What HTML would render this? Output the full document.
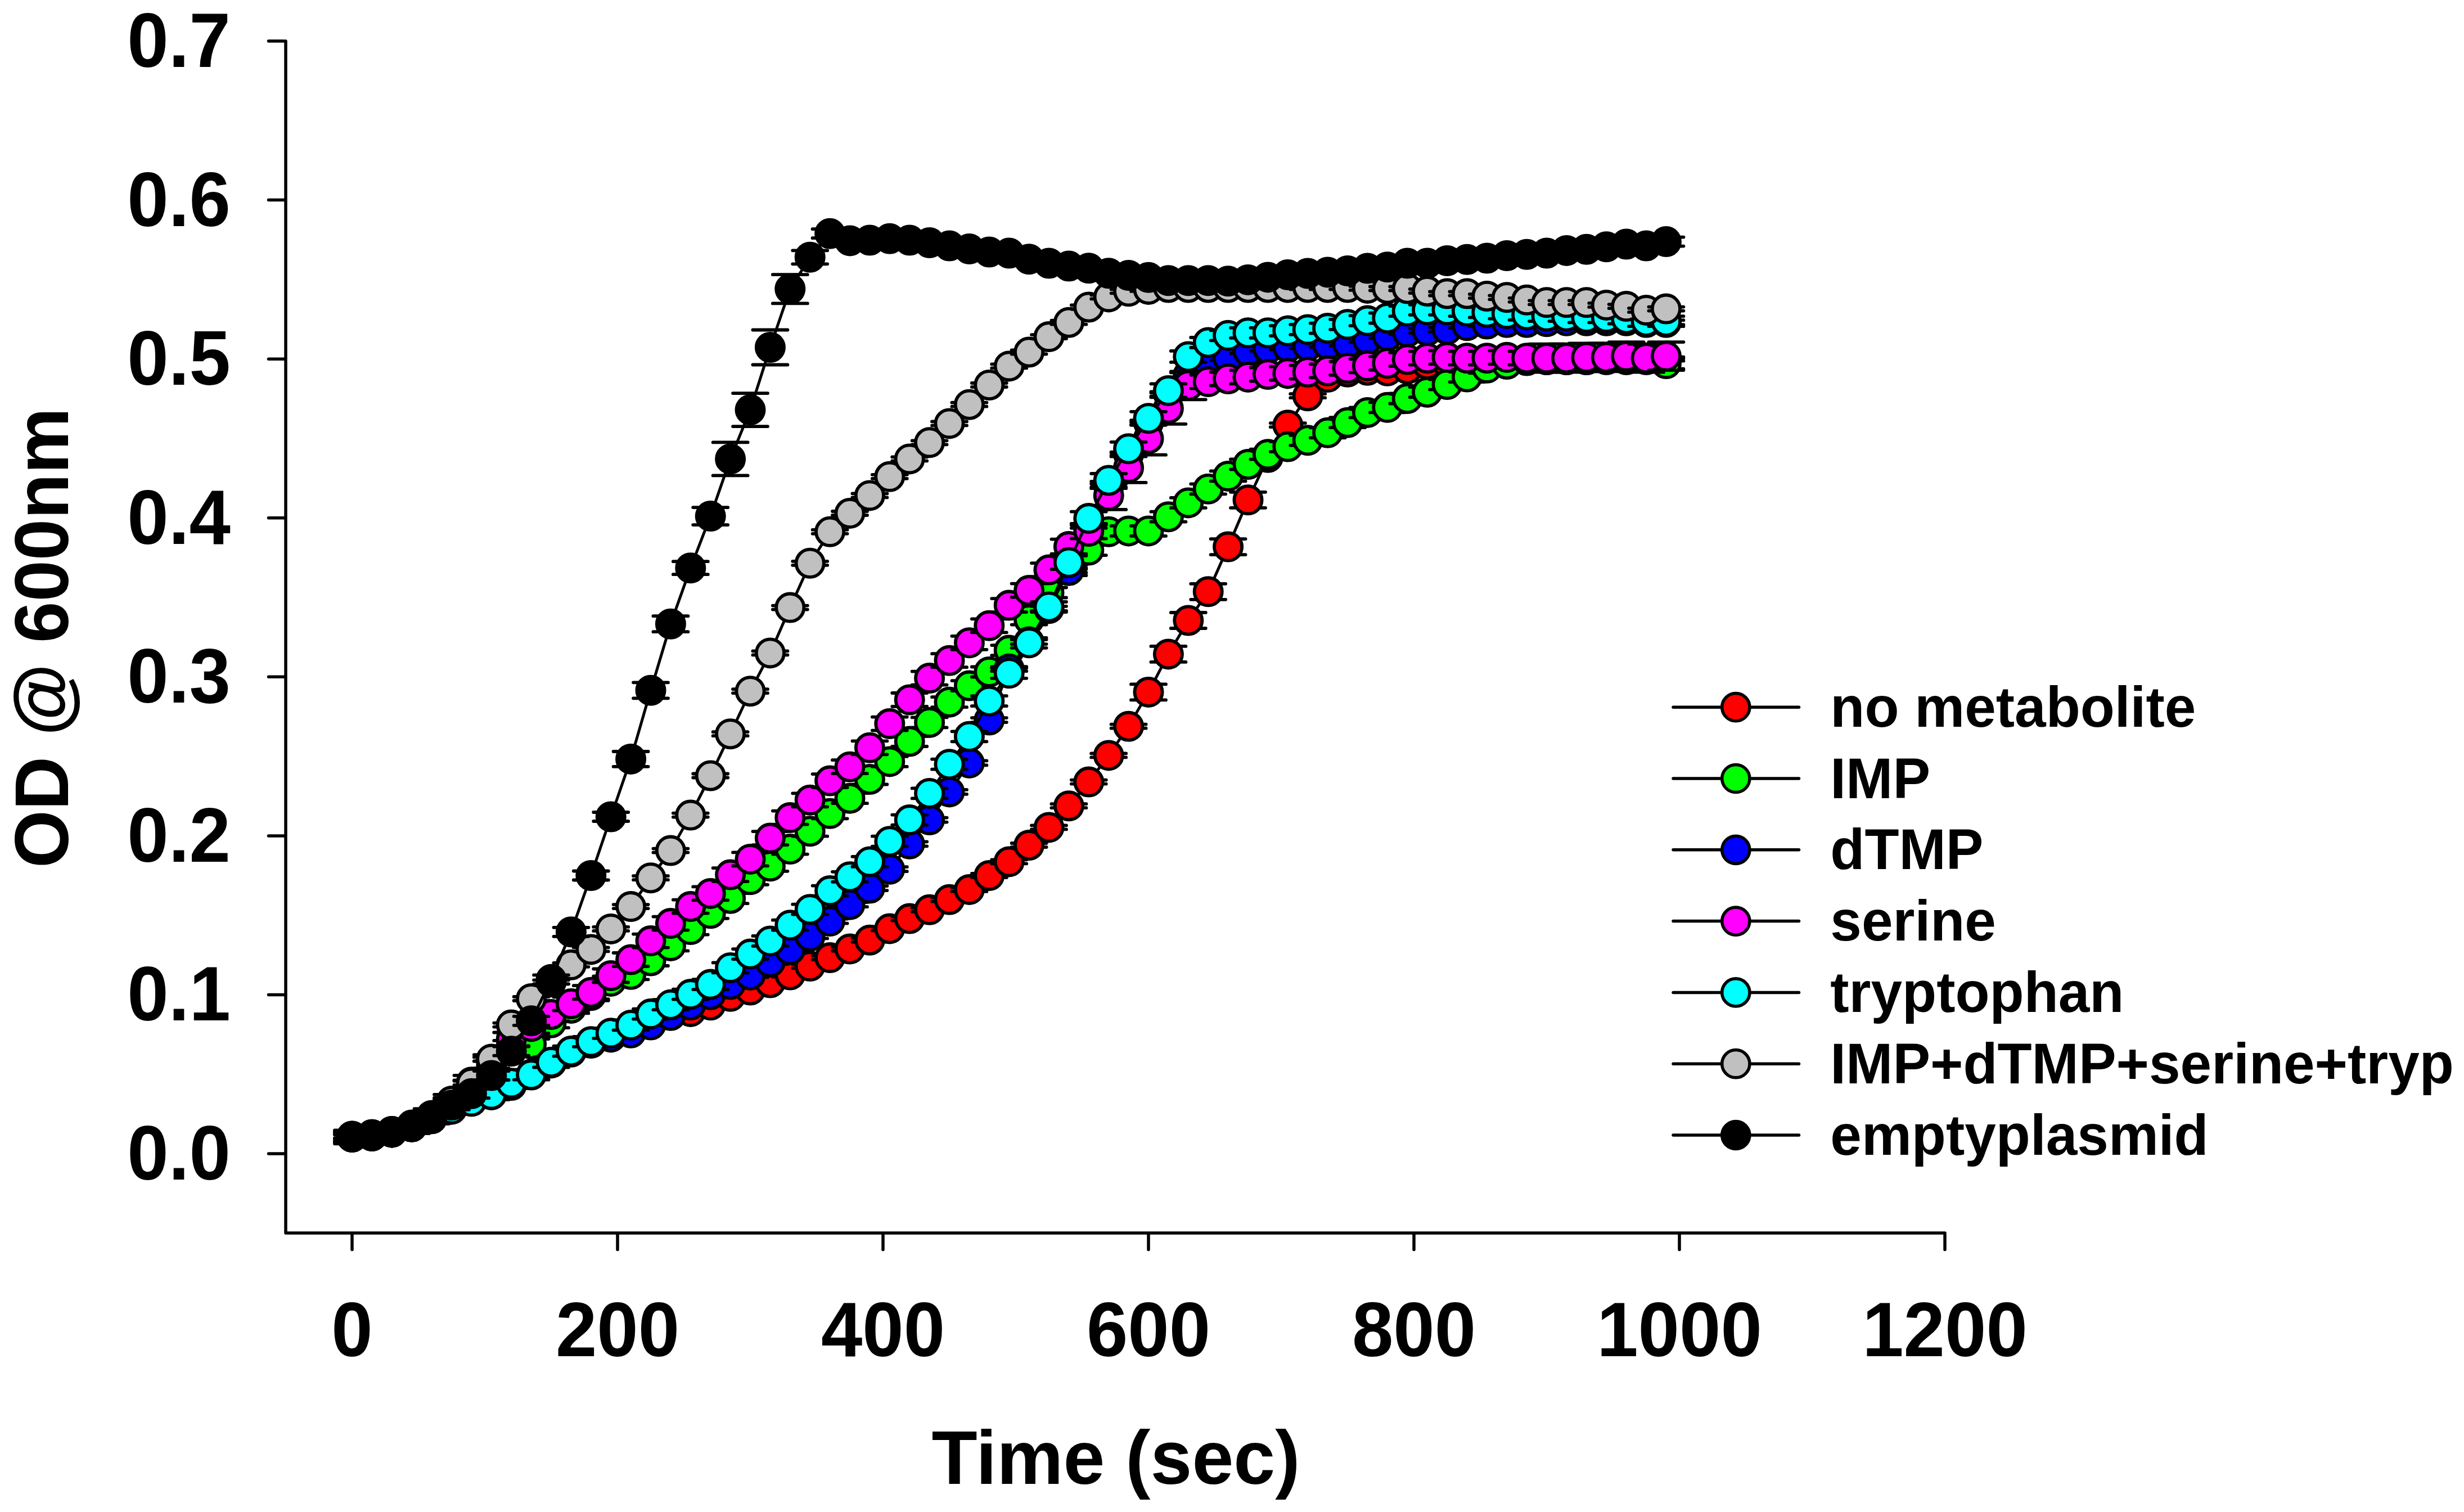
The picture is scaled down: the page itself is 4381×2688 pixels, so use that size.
<!DOCTYPE html>
<html><head><meta charset="utf-8"><style>
html,body{margin:0;padding:0;background:#fff;width:4381px;height:2688px;overflow:hidden}
svg{display:block}
text{font-family:"Liberation Sans",sans-serif;font-weight:bold;fill:#000}
</style></head><body>
<svg width="4381" height="2688" viewBox="0 0 4381 2688">
<rect width="4381" height="2688" fill="#fff"/>

<g stroke="#000" stroke-width="5.5" stroke-linecap="round" stroke-linejoin="round" fill="none">
<path d="M508 73V2192H3458"/>
<path d="M477.5 2051.0H505"/>
<path d="M477.5 1768.4H505"/>
<path d="M477.5 1485.9H505"/>
<path d="M477.5 1203.3H505"/>
<path d="M477.5 920.7H505"/>
<path d="M477.5 638.2H505"/>
<path d="M477.5 355.6H505"/>
<path d="M477.5 73.0H505"/>
<path d="M626.0 2195V2221.5"/>
<path d="M1098.0 2195V2221.5"/>
<path d="M1570.0 2195V2221.5"/>
<path d="M2042.0 2195V2221.5"/>
<path d="M2514.0 2195V2221.5"/>
<path d="M2986.0 2195V2221.5"/>
<path d="M3458.0 2195V2221.5"/>
</g>
<text transform="translate(409.8 2097.0) scale(1 1.045)" font-size="132" text-anchor="end">0.0</text>
<text transform="translate(409.8 1814.4) scale(1 1.045)" font-size="132" text-anchor="end">0.1</text>
<text transform="translate(409.8 1531.9) scale(1 1.045)" font-size="132" text-anchor="end">0.2</text>
<text transform="translate(409.8 1249.3) scale(1 1.045)" font-size="132" text-anchor="end">0.3</text>
<text transform="translate(409.8 966.7) scale(1 1.045)" font-size="132" text-anchor="end">0.4</text>
<text transform="translate(409.8 684.2) scale(1 1.045)" font-size="132" text-anchor="end">0.5</text>
<text transform="translate(409.8 401.6) scale(1 1.045)" font-size="132" text-anchor="end">0.6</text>
<text transform="translate(409.8 119.0) scale(1 1.045)" font-size="132" text-anchor="end">0.7</text>
<text transform="translate(626.0 2411) scale(1 1.045)" font-size="132" text-anchor="middle">0</text>
<text transform="translate(1098.0 2411) scale(1 1.045)" font-size="132" text-anchor="middle">200</text>
<text transform="translate(1570.0 2411) scale(1 1.045)" font-size="132" text-anchor="middle">400</text>
<text transform="translate(2042.0 2411) scale(1 1.045)" font-size="132" text-anchor="middle">600</text>
<text transform="translate(2514.0 2411) scale(1 1.045)" font-size="132" text-anchor="middle">800</text>
<text transform="translate(2986.0 2411) scale(1 1.045)" font-size="132" text-anchor="middle">1000</text>
<text transform="translate(3458.0 2411) scale(1 1.045)" font-size="132" text-anchor="middle">1200</text>
<text transform="translate(1656.5 2638) scale(1.007 1.03)" font-size="132">Time (sec)</text>
<text transform="translate(121 1543) rotate(-90) scale(1 1.03)" font-size="132">OD @ 600nm</text>
<polyline points="626.0,2019.9 661.4,2017.9 696.8,2011.4 732.2,2001.6 767.6,1987.4 803.0,1970.5 838.4,1956.3 873.8,1945.0 909.2,1928.1 944.6,1909.7 980.0,1888.5 1015.4,1868.7 1050.8,1853.2 1086.2,1842.5 1121.6,1834.8 1157.0,1820.7 1192.4,1803.8 1227.8,1798.4 1263.2,1786.8 1298.6,1771.3 1334.0,1760.0 1369.4,1747.0 1404.8,1733.1 1440.2,1717.6 1475.6,1702.6 1511.0,1687.0 1546.4,1671.2 1581.8,1650.9 1617.2,1633.1 1652.6,1617.3 1688.0,1599.2 1723.4,1581.4 1758.8,1556.5 1794.2,1531.9 1829.6,1502.5 1865.0,1470.9 1900.4,1432.7 1935.8,1390.1 1971.2,1342.9 2006.6,1291.2 2042.0,1230.4 2077.4,1162.9 2112.8,1103.0 2148.2,1051.8 2183.6,972.1 2219.0,888.8 2254.4,813.3 2289.8,755.7 2325.2,703.7 2360.6,670.6 2396.0,661.3 2431.4,658.2 2466.8,659.3 2502.2,655.7 2537.6,647.5 2573.0,645.2 2608.4,643.8 2643.8,642.4 2679.2,641.0 2714.6,641.0 2750.0,639.6 2785.4,639.6 2820.8,639.6 2856.2,638.2 2891.6,638.2 2927.0,638.2 2962.4,638.2" fill="none" stroke="#000" stroke-width="5" stroke-linejoin="round"/>
<g stroke="#000" stroke-width="5.8"><path fill="none" stroke-linecap="round" d="M595.0 2016.4H657.0M595.0 2023.4H657.0"/><circle cx="626.0" cy="2019.9" r="24.6" fill="#FF0000"/><path fill="none" stroke-linecap="round" d="M630.4 2014.4H692.4M630.4 2021.4H692.4"/><circle cx="661.4" cy="2017.9" r="24.6" fill="#FF0000"/><path fill="none" stroke-linecap="round" d="M665.8 2007.9H727.8M665.8 2014.9H727.8"/><circle cx="696.8" cy="2011.4" r="24.6" fill="#FF0000"/><path fill="none" stroke-linecap="round" d="M701.2 1998.1H763.2M701.2 2005.1H763.2"/><circle cx="732.2" cy="2001.6" r="24.6" fill="#FF0000"/><path fill="none" stroke-linecap="round" d="M736.6 1983.9H798.6M736.6 1990.9H798.6"/><circle cx="767.6" cy="1987.4" r="24.6" fill="#FF0000"/><path fill="none" stroke-linecap="round" d="M772.0 1967.0H834.0M772.0 1974.0H834.0"/><circle cx="803.0" cy="1970.5" r="24.6" fill="#FF0000"/><path fill="none" stroke-linecap="round" d="M807.4 1952.8H869.4M807.4 1959.8H869.4"/><circle cx="838.4" cy="1956.3" r="24.6" fill="#FF0000"/><path fill="none" stroke-linecap="round" d="M842.8 1941.5H904.8M842.8 1948.5H904.8"/><circle cx="873.8" cy="1945.0" r="24.6" fill="#FF0000"/><path fill="none" stroke-linecap="round" d="M878.2 1924.6H940.2M878.2 1931.6H940.2"/><circle cx="909.2" cy="1928.1" r="24.6" fill="#FF0000"/><path fill="none" stroke-linecap="round" d="M913.6 1906.2H975.6M913.6 1913.2H975.6"/><circle cx="944.6" cy="1909.7" r="24.6" fill="#FF0000"/><path fill="none" stroke-linecap="round" d="M949.0 1885.0H1011.0M949.0 1892.0H1011.0"/><circle cx="980.0" cy="1888.5" r="24.6" fill="#FF0000"/><path fill="none" stroke-linecap="round" d="M984.4 1865.2H1046.4M984.4 1872.2H1046.4"/><circle cx="1015.4" cy="1868.7" r="24.6" fill="#FF0000"/><path fill="none" stroke-linecap="round" d="M1019.8 1849.7H1081.8M1019.8 1856.7H1081.8"/><circle cx="1050.8" cy="1853.2" r="24.6" fill="#FF0000"/><path fill="none" stroke-linecap="round" d="M1055.2 1839.0H1117.2M1055.2 1846.0H1117.2"/><circle cx="1086.2" cy="1842.5" r="24.6" fill="#FF0000"/><path fill="none" stroke-linecap="round" d="M1090.6 1831.3H1152.6M1090.6 1838.3H1152.6"/><circle cx="1121.6" cy="1834.8" r="24.6" fill="#FF0000"/><path fill="none" stroke-linecap="round" d="M1126.0 1817.2H1188.0M1126.0 1824.2H1188.0"/><circle cx="1157.0" cy="1820.7" r="24.6" fill="#FF0000"/><path fill="none" stroke-linecap="round" d="M1161.4 1800.3H1223.4M1161.4 1807.3H1223.4"/><circle cx="1192.4" cy="1803.8" r="24.6" fill="#FF0000"/><path fill="none" stroke-linecap="round" d="M1196.8 1794.9H1258.8M1196.8 1801.9H1258.8"/><circle cx="1227.8" cy="1798.4" r="24.6" fill="#FF0000"/><path fill="none" stroke-linecap="round" d="M1232.2 1783.3H1294.2M1232.2 1790.3H1294.2"/><circle cx="1263.2" cy="1786.8" r="24.6" fill="#FF0000"/><path fill="none" stroke-linecap="round" d="M1267.6 1767.8H1329.6M1267.6 1774.8H1329.6"/><circle cx="1298.6" cy="1771.3" r="24.6" fill="#FF0000"/><path fill="none" stroke-linecap="round" d="M1303.0 1756.5H1365.0M1303.0 1763.5H1365.0"/><circle cx="1334.0" cy="1760.0" r="24.6" fill="#FF0000"/><path fill="none" stroke-linecap="round" d="M1338.4 1743.5H1400.4M1338.4 1750.5H1400.4"/><circle cx="1369.4" cy="1747.0" r="24.6" fill="#FF0000"/><path fill="none" stroke-linecap="round" d="M1373.8 1729.6H1435.8M1373.8 1736.6H1435.8"/><circle cx="1404.8" cy="1733.1" r="24.6" fill="#FF0000"/><path fill="none" stroke-linecap="round" d="M1409.2 1714.1H1471.2M1409.2 1721.1H1471.2"/><circle cx="1440.2" cy="1717.6" r="24.6" fill="#FF0000"/><path fill="none" stroke-linecap="round" d="M1444.6 1699.1H1506.6M1444.6 1706.1H1506.6"/><circle cx="1475.6" cy="1702.6" r="24.6" fill="#FF0000"/><path fill="none" stroke-linecap="round" d="M1480.0 1683.5H1542.0M1480.0 1690.5H1542.0"/><circle cx="1511.0" cy="1687.0" r="24.6" fill="#FF0000"/><path fill="none" stroke-linecap="round" d="M1515.4 1667.7H1577.4M1515.4 1674.7H1577.4"/><circle cx="1546.4" cy="1671.2" r="24.6" fill="#FF0000"/><path fill="none" stroke-linecap="round" d="M1550.8 1647.4H1612.8M1550.8 1654.4H1612.8"/><circle cx="1581.8" cy="1650.9" r="24.6" fill="#FF0000"/><path fill="none" stroke-linecap="round" d="M1586.2 1629.6H1648.2M1586.2 1636.6H1648.2"/><circle cx="1617.2" cy="1633.1" r="24.6" fill="#FF0000"/><path fill="none" stroke-linecap="round" d="M1621.6 1613.8H1683.6M1621.6 1620.8H1683.6"/><circle cx="1652.6" cy="1617.3" r="24.6" fill="#FF0000"/><path fill="none" stroke-linecap="round" d="M1657.0 1595.7H1719.0M1657.0 1602.7H1719.0"/><circle cx="1688.0" cy="1599.2" r="24.6" fill="#FF0000"/><path fill="none" stroke-linecap="round" d="M1692.4 1577.9H1754.4M1692.4 1584.9H1754.4"/><circle cx="1723.4" cy="1581.4" r="24.6" fill="#FF0000"/><path fill="none" stroke-linecap="round" d="M1727.8 1553.0H1789.8M1727.8 1560.0H1789.8"/><circle cx="1758.8" cy="1556.5" r="24.6" fill="#FF0000"/><path fill="none" stroke-linecap="round" d="M1763.2 1528.4H1825.2M1763.2 1535.4H1825.2"/><circle cx="1794.2" cy="1531.9" r="24.6" fill="#FF0000"/><path fill="none" stroke-linecap="round" d="M1798.6 1499.0H1860.6M1798.6 1506.0H1860.6"/><circle cx="1829.6" cy="1502.5" r="24.6" fill="#FF0000"/><path fill="none" stroke-linecap="round" d="M1834.0 1467.4H1896.0M1834.0 1474.4H1896.0"/><circle cx="1865.0" cy="1470.9" r="24.6" fill="#FF0000"/><path fill="none" stroke-linecap="round" d="M1869.4 1429.2H1931.4M1869.4 1436.2H1931.4"/><circle cx="1900.4" cy="1432.7" r="24.6" fill="#FF0000"/><path fill="none" stroke-linecap="round" d="M1904.8 1386.6H1966.8M1904.8 1393.6H1966.8"/><circle cx="1935.8" cy="1390.1" r="24.6" fill="#FF0000"/><path fill="none" stroke-linecap="round" d="M1940.2 1339.4H2002.2M1940.2 1346.4H2002.2"/><circle cx="1971.2" cy="1342.9" r="24.6" fill="#FF0000"/><path fill="none" stroke-linecap="round" d="M1975.6 1287.7H2037.6M1975.6 1294.7H2037.6"/><circle cx="2006.6" cy="1291.2" r="24.6" fill="#FF0000"/><path fill="none" stroke-linecap="round" d="M2011.0 1216.4H2073.0M2011.0 1244.4H2073.0"/><circle cx="2042.0" cy="1230.4" r="24.6" fill="#FF0000"/><path fill="none" stroke-linecap="round" d="M2046.4 1148.9H2108.4M2046.4 1176.9H2108.4"/><circle cx="2077.4" cy="1162.9" r="24.6" fill="#FF0000"/><path fill="none" stroke-linecap="round" d="M2081.8 1089.0H2143.8M2081.8 1117.0H2143.8"/><circle cx="2112.8" cy="1103.0" r="24.6" fill="#FF0000"/><path fill="none" stroke-linecap="round" d="M2117.2 1037.8H2179.2M2117.2 1065.8H2179.2"/><circle cx="2148.2" cy="1051.8" r="24.6" fill="#FF0000"/><path fill="none" stroke-linecap="round" d="M2152.6 958.1H2214.6M2152.6 986.1H2214.6"/><circle cx="2183.6" cy="972.1" r="24.6" fill="#FF0000"/><path fill="none" stroke-linecap="round" d="M2188.0 874.8H2250.0M2188.0 902.8H2250.0"/><circle cx="2219.0" cy="888.8" r="24.6" fill="#FF0000"/><path fill="none" stroke-linecap="round" d="M2223.4 809.8H2285.4M2223.4 816.8H2285.4"/><circle cx="2254.4" cy="813.3" r="24.6" fill="#FF0000"/><path fill="none" stroke-linecap="round" d="M2258.8 752.2H2320.8M2258.8 759.2H2320.8"/><circle cx="2289.8" cy="755.7" r="24.6" fill="#FF0000"/><path fill="none" stroke-linecap="round" d="M2294.2 700.2H2356.2M2294.2 707.2H2356.2"/><circle cx="2325.2" cy="703.7" r="24.6" fill="#FF0000"/><path fill="none" stroke-linecap="round" d="M2329.6 667.1H2391.6M2329.6 674.1H2391.6"/><circle cx="2360.6" cy="670.6" r="24.6" fill="#FF0000"/><path fill="none" stroke-linecap="round" d="M2365.0 657.8H2427.0M2365.0 664.8H2427.0"/><circle cx="2396.0" cy="661.3" r="24.6" fill="#FF0000"/><path fill="none" stroke-linecap="round" d="M2400.4 654.7H2462.4M2400.4 661.7H2462.4"/><circle cx="2431.4" cy="658.2" r="24.6" fill="#FF0000"/><path fill="none" stroke-linecap="round" d="M2435.8 655.8H2497.8M2435.8 662.8H2497.8"/><circle cx="2466.8" cy="659.3" r="24.6" fill="#FF0000"/><path fill="none" stroke-linecap="round" d="M2471.2 652.2H2533.2M2471.2 659.2H2533.2"/><circle cx="2502.2" cy="655.7" r="24.6" fill="#FF0000"/><path fill="none" stroke-linecap="round" d="M2506.6 644.0H2568.6M2506.6 651.0H2568.6"/><circle cx="2537.6" cy="647.5" r="24.6" fill="#FF0000"/><path fill="none" stroke-linecap="round" d="M2542.0 641.7H2604.0M2542.0 648.7H2604.0"/><circle cx="2573.0" cy="645.2" r="24.6" fill="#FF0000"/><path fill="none" stroke-linecap="round" d="M2577.4 640.3H2639.4M2577.4 647.3H2639.4"/><circle cx="2608.4" cy="643.8" r="24.6" fill="#FF0000"/><path fill="none" stroke-linecap="round" d="M2612.8 638.9H2674.8M2612.8 645.9H2674.8"/><circle cx="2643.8" cy="642.4" r="24.6" fill="#FF0000"/><path fill="none" stroke-linecap="round" d="M2648.2 637.5H2710.2M2648.2 644.5H2710.2"/><circle cx="2679.2" cy="641.0" r="24.6" fill="#FF0000"/><path fill="none" stroke-linecap="round" d="M2683.6 637.5H2745.6M2683.6 644.5H2745.6"/><circle cx="2714.6" cy="641.0" r="24.6" fill="#FF0000"/><path fill="none" stroke-linecap="round" d="M2719.0 636.1H2781.0M2719.0 643.1H2781.0"/><circle cx="2750.0" cy="639.6" r="24.6" fill="#FF0000"/><path fill="none" stroke-linecap="round" d="M2754.4 636.1H2816.4M2754.4 643.1H2816.4"/><circle cx="2785.4" cy="639.6" r="24.6" fill="#FF0000"/><path fill="none" stroke-linecap="round" d="M2789.8 636.1H2851.8M2789.8 643.1H2851.8"/><circle cx="2820.8" cy="639.6" r="24.6" fill="#FF0000"/><path fill="none" stroke-linecap="round" d="M2825.2 634.7H2887.2M2825.2 641.7H2887.2"/><circle cx="2856.2" cy="638.2" r="24.6" fill="#FF0000"/><path fill="none" stroke-linecap="round" d="M2860.6 634.7H2922.6M2860.6 641.7H2922.6"/><circle cx="2891.6" cy="638.2" r="24.6" fill="#FF0000"/><path fill="none" stroke-linecap="round" d="M2896.0 634.7H2958.0M2896.0 641.7H2958.0"/><circle cx="2927.0" cy="638.2" r="24.6" fill="#FF0000"/><path fill="none" stroke-linecap="round" d="M2931.4 634.7H2993.4M2931.4 641.7H2993.4"/><circle cx="2962.4" cy="638.2" r="24.6" fill="#FF0000"/></g>
<polyline points="626.0,2021.3 661.4,2019.4 696.8,2012.9 732.2,2003.0 767.6,1986.0 803.0,1960.6 838.4,1929.5 873.8,1895.6 909.2,1858.9 944.6,1856.0 980.0,1818.2 1015.4,1792.4 1050.8,1769.8 1086.2,1744.4 1121.6,1732.3 1157.0,1708.0 1192.4,1681.4 1227.8,1652.6 1263.2,1623.8 1298.6,1597.2 1334.0,1563.8 1369.4,1539.8 1404.8,1509.6 1440.2,1477.7 1475.6,1446.3 1511.0,1419.2 1546.4,1385.5 1581.8,1353.9 1617.2,1318.0 1652.6,1284.4 1688.0,1248.2 1723.4,1219.1 1758.8,1194.5 1794.2,1156.1 1829.6,1101.6 1865.0,1053.5 1900.4,1014.0 1935.8,978.1 1971.2,945.3 2006.6,943.9 2042.0,943.9 2077.4,918.7 2112.8,893.9 2148.2,869.3 2183.6,846.4 2219.0,825.5 2254.4,807.7 2289.8,794.1 2325.2,782.8 2360.6,769.3 2396.0,751.2 2431.4,733.4 2466.8,724.3 2502.2,708.5 2537.6,697.2 2573.0,683.6 2608.4,670.1 2643.8,654.3 2679.2,647.5 2714.6,639.6 2750.0,639.6 2785.4,639.6 2820.8,639.6 2856.2,639.6 2891.6,639.6 2927.0,639.6 2962.4,646.6" fill="none" stroke="#000" stroke-width="5" stroke-linejoin="round"/>
<g stroke="#000" stroke-width="5.8"><path fill="none" stroke-linecap="round" d="M595.0 2012.3H657.0M595.0 2030.3H657.0"/><circle cx="626.0" cy="2021.3" r="24.6" fill="#00FF00"/><path fill="none" stroke-linecap="round" d="M630.4 2010.4H692.4M630.4 2028.4H692.4"/><circle cx="661.4" cy="2019.4" r="24.6" fill="#00FF00"/><path fill="none" stroke-linecap="round" d="M665.8 2003.9H727.8M665.8 2021.9H727.8"/><circle cx="696.8" cy="2012.9" r="24.6" fill="#00FF00"/><path fill="none" stroke-linecap="round" d="M701.2 1994.0H763.2M701.2 2012.0H763.2"/><circle cx="732.2" cy="2003.0" r="24.6" fill="#00FF00"/><path fill="none" stroke-linecap="round" d="M736.6 1977.0H798.6M736.6 1995.0H798.6"/><circle cx="767.6" cy="1986.0" r="24.6" fill="#00FF00"/><path fill="none" stroke-linecap="round" d="M772.0 1951.6H834.0M772.0 1969.6H834.0"/><circle cx="803.0" cy="1960.6" r="24.6" fill="#00FF00"/><path fill="none" stroke-linecap="round" d="M807.4 1920.5H869.4M807.4 1938.5H869.4"/><circle cx="838.4" cy="1929.5" r="24.6" fill="#00FF00"/><path fill="none" stroke-linecap="round" d="M842.8 1886.6H904.8M842.8 1904.6H904.8"/><circle cx="873.8" cy="1895.6" r="24.6" fill="#00FF00"/><path fill="none" stroke-linecap="round" d="M878.2 1849.9H940.2M878.2 1867.9H940.2"/><circle cx="909.2" cy="1858.9" r="24.6" fill="#00FF00"/><path fill="none" stroke-linecap="round" d="M913.6 1847.0H975.6M913.6 1865.0H975.6"/><circle cx="944.6" cy="1856.0" r="24.6" fill="#00FF00"/><path fill="none" stroke-linecap="round" d="M949.0 1809.2H1011.0M949.0 1827.2H1011.0"/><circle cx="980.0" cy="1818.2" r="24.6" fill="#00FF00"/><path fill="none" stroke-linecap="round" d="M984.4 1783.4H1046.4M984.4 1801.4H1046.4"/><circle cx="1015.4" cy="1792.4" r="24.6" fill="#00FF00"/><path fill="none" stroke-linecap="round" d="M1019.8 1760.8H1081.8M1019.8 1778.8H1081.8"/><circle cx="1050.8" cy="1769.8" r="24.6" fill="#00FF00"/><path fill="none" stroke-linecap="round" d="M1055.2 1735.4H1117.2M1055.2 1753.4H1117.2"/><circle cx="1086.2" cy="1744.4" r="24.6" fill="#00FF00"/><path fill="none" stroke-linecap="round" d="M1090.6 1723.3H1152.6M1090.6 1741.3H1152.6"/><circle cx="1121.6" cy="1732.3" r="24.6" fill="#00FF00"/><path fill="none" stroke-linecap="round" d="M1126.0 1699.0H1188.0M1126.0 1717.0H1188.0"/><circle cx="1157.0" cy="1708.0" r="24.6" fill="#00FF00"/><path fill="none" stroke-linecap="round" d="M1161.4 1672.4H1223.4M1161.4 1690.4H1223.4"/><circle cx="1192.4" cy="1681.4" r="24.6" fill="#00FF00"/><path fill="none" stroke-linecap="round" d="M1196.8 1643.6H1258.8M1196.8 1661.6H1258.8"/><circle cx="1227.8" cy="1652.6" r="24.6" fill="#00FF00"/><path fill="none" stroke-linecap="round" d="M1232.2 1614.8H1294.2M1232.2 1632.8H1294.2"/><circle cx="1263.2" cy="1623.8" r="24.6" fill="#00FF00"/><path fill="none" stroke-linecap="round" d="M1267.6 1588.2H1329.6M1267.6 1606.2H1329.6"/><circle cx="1298.6" cy="1597.2" r="24.6" fill="#00FF00"/><path fill="none" stroke-linecap="round" d="M1303.0 1554.8H1365.0M1303.0 1572.8H1365.0"/><circle cx="1334.0" cy="1563.8" r="24.6" fill="#00FF00"/><path fill="none" stroke-linecap="round" d="M1338.4 1530.8H1400.4M1338.4 1548.8H1400.4"/><circle cx="1369.4" cy="1539.8" r="24.6" fill="#00FF00"/><path fill="none" stroke-linecap="round" d="M1373.8 1500.6H1435.8M1373.8 1518.6H1435.8"/><circle cx="1404.8" cy="1509.6" r="24.6" fill="#00FF00"/><path fill="none" stroke-linecap="round" d="M1409.2 1468.7H1471.2M1409.2 1486.7H1471.2"/><circle cx="1440.2" cy="1477.7" r="24.6" fill="#00FF00"/><path fill="none" stroke-linecap="round" d="M1444.6 1437.3H1506.6M1444.6 1455.3H1506.6"/><circle cx="1475.6" cy="1446.3" r="24.6" fill="#00FF00"/><path fill="none" stroke-linecap="round" d="M1480.0 1410.2H1542.0M1480.0 1428.2H1542.0"/><circle cx="1511.0" cy="1419.2" r="24.6" fill="#00FF00"/><path fill="none" stroke-linecap="round" d="M1515.4 1376.5H1577.4M1515.4 1394.5H1577.4"/><circle cx="1546.4" cy="1385.5" r="24.6" fill="#00FF00"/><path fill="none" stroke-linecap="round" d="M1550.8 1344.9H1612.8M1550.8 1362.9H1612.8"/><circle cx="1581.8" cy="1353.9" r="24.6" fill="#00FF00"/><path fill="none" stroke-linecap="round" d="M1586.2 1309.0H1648.2M1586.2 1327.0H1648.2"/><circle cx="1617.2" cy="1318.0" r="24.6" fill="#00FF00"/><path fill="none" stroke-linecap="round" d="M1621.6 1275.4H1683.6M1621.6 1293.4H1683.6"/><circle cx="1652.6" cy="1284.4" r="24.6" fill="#00FF00"/><path fill="none" stroke-linecap="round" d="M1657.0 1239.2H1719.0M1657.0 1257.2H1719.0"/><circle cx="1688.0" cy="1248.2" r="24.6" fill="#00FF00"/><path fill="none" stroke-linecap="round" d="M1692.4 1210.1H1754.4M1692.4 1228.1H1754.4"/><circle cx="1723.4" cy="1219.1" r="24.6" fill="#00FF00"/><path fill="none" stroke-linecap="round" d="M1727.8 1185.5H1789.8M1727.8 1203.5H1789.8"/><circle cx="1758.8" cy="1194.5" r="24.6" fill="#00FF00"/><path fill="none" stroke-linecap="round" d="M1763.2 1147.1H1825.2M1763.2 1165.1H1825.2"/><circle cx="1794.2" cy="1156.1" r="24.6" fill="#00FF00"/><path fill="none" stroke-linecap="round" d="M1798.6 1092.6H1860.6M1798.6 1110.6H1860.6"/><circle cx="1829.6" cy="1101.6" r="24.6" fill="#00FF00"/><path fill="none" stroke-linecap="round" d="M1834.0 1044.5H1896.0M1834.0 1062.5H1896.0"/><circle cx="1865.0" cy="1053.5" r="24.6" fill="#00FF00"/><path fill="none" stroke-linecap="round" d="M1869.4 1005.0H1931.4M1869.4 1023.0H1931.4"/><circle cx="1900.4" cy="1014.0" r="24.6" fill="#00FF00"/><path fill="none" stroke-linecap="round" d="M1904.8 969.1H1966.8M1904.8 987.1H1966.8"/><circle cx="1935.8" cy="978.1" r="24.6" fill="#00FF00"/><path fill="none" stroke-linecap="round" d="M1940.2 936.3H2002.2M1940.2 954.3H2002.2"/><circle cx="1971.2" cy="945.3" r="24.6" fill="#00FF00"/><path fill="none" stroke-linecap="round" d="M1975.6 934.9H2037.6M1975.6 952.9H2037.6"/><circle cx="2006.6" cy="943.9" r="24.6" fill="#00FF00"/><path fill="none" stroke-linecap="round" d="M2011.0 934.9H2073.0M2011.0 952.9H2073.0"/><circle cx="2042.0" cy="943.9" r="24.6" fill="#00FF00"/><path fill="none" stroke-linecap="round" d="M2046.4 909.7H2108.4M2046.4 927.7H2108.4"/><circle cx="2077.4" cy="918.7" r="24.6" fill="#00FF00"/><path fill="none" stroke-linecap="round" d="M2081.8 884.9H2143.8M2081.8 902.9H2143.8"/><circle cx="2112.8" cy="893.9" r="24.6" fill="#00FF00"/><path fill="none" stroke-linecap="round" d="M2117.2 860.3H2179.2M2117.2 878.3H2179.2"/><circle cx="2148.2" cy="869.3" r="24.6" fill="#00FF00"/><path fill="none" stroke-linecap="round" d="M2152.6 837.4H2214.6M2152.6 855.4H2214.6"/><circle cx="2183.6" cy="846.4" r="24.6" fill="#00FF00"/><path fill="none" stroke-linecap="round" d="M2188.0 816.5H2250.0M2188.0 834.5H2250.0"/><circle cx="2219.0" cy="825.5" r="24.6" fill="#00FF00"/><path fill="none" stroke-linecap="round" d="M2223.4 798.7H2285.4M2223.4 816.7H2285.4"/><circle cx="2254.4" cy="807.7" r="24.6" fill="#00FF00"/><path fill="none" stroke-linecap="round" d="M2258.8 785.1H2320.8M2258.8 803.1H2320.8"/><circle cx="2289.8" cy="794.1" r="24.6" fill="#00FF00"/><path fill="none" stroke-linecap="round" d="M2294.2 773.8H2356.2M2294.2 791.8H2356.2"/><circle cx="2325.2" cy="782.8" r="24.6" fill="#00FF00"/><path fill="none" stroke-linecap="round" d="M2329.6 760.3H2391.6M2329.6 778.3H2391.6"/><circle cx="2360.6" cy="769.3" r="24.6" fill="#00FF00"/><path fill="none" stroke-linecap="round" d="M2365.0 742.2H2427.0M2365.0 760.2H2427.0"/><circle cx="2396.0" cy="751.2" r="24.6" fill="#00FF00"/><path fill="none" stroke-linecap="round" d="M2400.4 724.4H2462.4M2400.4 742.4H2462.4"/><circle cx="2431.4" cy="733.4" r="24.6" fill="#00FF00"/><path fill="none" stroke-linecap="round" d="M2435.8 715.3H2497.8M2435.8 733.3H2497.8"/><circle cx="2466.8" cy="724.3" r="24.6" fill="#00FF00"/><path fill="none" stroke-linecap="round" d="M2471.2 699.5H2533.2M2471.2 717.5H2533.2"/><circle cx="2502.2" cy="708.5" r="24.6" fill="#00FF00"/><path fill="none" stroke-linecap="round" d="M2506.6 688.2H2568.6M2506.6 706.2H2568.6"/><circle cx="2537.6" cy="697.2" r="24.6" fill="#00FF00"/><path fill="none" stroke-linecap="round" d="M2542.0 674.6H2604.0M2542.0 692.6H2604.0"/><circle cx="2573.0" cy="683.6" r="24.6" fill="#00FF00"/><path fill="none" stroke-linecap="round" d="M2577.4 661.1H2639.4M2577.4 679.1H2639.4"/><circle cx="2608.4" cy="670.1" r="24.6" fill="#00FF00"/><path fill="none" stroke-linecap="round" d="M2612.8 645.3H2674.8M2612.8 663.3H2674.8"/><circle cx="2643.8" cy="654.3" r="24.6" fill="#00FF00"/><path fill="none" stroke-linecap="round" d="M2648.2 638.5H2710.2M2648.2 656.5H2710.2"/><circle cx="2679.2" cy="647.5" r="24.6" fill="#00FF00"/><path fill="none" stroke-linecap="round" d="M2683.6 630.6H2745.6M2683.6 648.6H2745.6"/><circle cx="2714.6" cy="639.6" r="24.6" fill="#00FF00"/><path fill="none" stroke-linecap="round" d="M2719.0 630.6H2781.0M2719.0 648.6H2781.0"/><circle cx="2750.0" cy="639.6" r="24.6" fill="#00FF00"/><path fill="none" stroke-linecap="round" d="M2754.4 630.6H2816.4M2754.4 648.6H2816.4"/><circle cx="2785.4" cy="639.6" r="24.6" fill="#00FF00"/><path fill="none" stroke-linecap="round" d="M2789.8 630.6H2851.8M2789.8 648.6H2851.8"/><circle cx="2820.8" cy="639.6" r="24.6" fill="#00FF00"/><path fill="none" stroke-linecap="round" d="M2825.2 630.6H2887.2M2825.2 648.6H2887.2"/><circle cx="2856.2" cy="639.6" r="24.6" fill="#00FF00"/><path fill="none" stroke-linecap="round" d="M2860.6 630.6H2922.6M2860.6 648.6H2922.6"/><circle cx="2891.6" cy="639.6" r="24.6" fill="#00FF00"/><path fill="none" stroke-linecap="round" d="M2896.0 630.6H2958.0M2896.0 648.6H2958.0"/><circle cx="2927.0" cy="639.6" r="24.6" fill="#00FF00"/><path fill="none" stroke-linecap="round" d="M2931.4 637.6H2993.4M2931.4 655.6H2993.4"/><circle cx="2962.4" cy="646.6" r="24.6" fill="#00FF00"/></g>
<polyline points="626.0,2021.3 661.4,2019.4 696.8,2012.9 732.2,2003.0 767.6,1988.8 803.0,1971.9 838.4,1957.8 873.8,1946.4 909.2,1929.5 944.6,1911.1 980.0,1889.9 1015.4,1870.2 1050.8,1854.6 1086.2,1843.9 1121.6,1836.2 1157.0,1822.1 1192.4,1805.2 1227.8,1786.8 1263.2,1768.4 1298.6,1750.1 1334.0,1733.4 1369.4,1710.2 1404.8,1688.5 1440.2,1664.4 1475.6,1637.6 1511.0,1608.2 1546.4,1579.1 1581.8,1545.2 1617.2,1500.3 1652.6,1457.6 1688.0,1407.9 1723.4,1356.4 1758.8,1280.1 1794.2,1189.2 1829.6,1141.1 1865.0,1081.8 1900.4,1014.0 1935.8,934.8 1971.2,864.2 2006.6,807.7 2042.0,751.2 2077.4,700.3 2112.8,666.4 2148.2,646.6 2183.6,636.7 2219.0,624.3 2254.4,619.8 2289.8,617.5 2325.2,615.3 2360.6,613.0 2396.0,610.7 2431.4,604.0 2466.8,597.2 2502.2,590.4 2537.6,588.1 2573.0,585.9 2608.4,578.8 2643.8,576.0 2679.2,573.2 2714.6,573.2 2750.0,571.7 2785.4,570.3 2820.8,570.3 2856.2,570.3 2891.6,570.3 2927.0,573.2 2962.4,573.2" fill="none" stroke="#000" stroke-width="5" stroke-linejoin="round"/>
<g stroke="#000" stroke-width="5.8"><path fill="none" stroke-linecap="round" d="M595.0 2017.3H657.0M595.0 2025.3H657.0"/><circle cx="626.0" cy="2021.3" r="24.6" fill="#0000FF"/><path fill="none" stroke-linecap="round" d="M630.4 2015.4H692.4M630.4 2023.4H692.4"/><circle cx="661.4" cy="2019.4" r="24.6" fill="#0000FF"/><path fill="none" stroke-linecap="round" d="M665.8 2008.9H727.8M665.8 2016.9H727.8"/><circle cx="696.8" cy="2012.9" r="24.6" fill="#0000FF"/><path fill="none" stroke-linecap="round" d="M701.2 1999.0H763.2M701.2 2007.0H763.2"/><circle cx="732.2" cy="2003.0" r="24.6" fill="#0000FF"/><path fill="none" stroke-linecap="round" d="M736.6 1984.8H798.6M736.6 1992.8H798.6"/><circle cx="767.6" cy="1988.8" r="24.6" fill="#0000FF"/><path fill="none" stroke-linecap="round" d="M772.0 1967.9H834.0M772.0 1975.9H834.0"/><circle cx="803.0" cy="1971.9" r="24.6" fill="#0000FF"/><path fill="none" stroke-linecap="round" d="M807.4 1953.8H869.4M807.4 1961.8H869.4"/><circle cx="838.4" cy="1957.8" r="24.6" fill="#0000FF"/><path fill="none" stroke-linecap="round" d="M842.8 1942.4H904.8M842.8 1950.4H904.8"/><circle cx="873.8" cy="1946.4" r="24.6" fill="#0000FF"/><path fill="none" stroke-linecap="round" d="M878.2 1925.5H940.2M878.2 1933.5H940.2"/><circle cx="909.2" cy="1929.5" r="24.6" fill="#0000FF"/><path fill="none" stroke-linecap="round" d="M913.6 1907.1H975.6M913.6 1915.1H975.6"/><circle cx="944.6" cy="1911.1" r="24.6" fill="#0000FF"/><path fill="none" stroke-linecap="round" d="M949.0 1885.9H1011.0M949.0 1893.9H1011.0"/><circle cx="980.0" cy="1889.9" r="24.6" fill="#0000FF"/><path fill="none" stroke-linecap="round" d="M984.4 1866.2H1046.4M984.4 1874.2H1046.4"/><circle cx="1015.4" cy="1870.2" r="24.6" fill="#0000FF"/><path fill="none" stroke-linecap="round" d="M1019.8 1850.6H1081.8M1019.8 1858.6H1081.8"/><circle cx="1050.8" cy="1854.6" r="24.6" fill="#0000FF"/><path fill="none" stroke-linecap="round" d="M1055.2 1839.9H1117.2M1055.2 1847.9H1117.2"/><circle cx="1086.2" cy="1843.9" r="24.6" fill="#0000FF"/><path fill="none" stroke-linecap="round" d="M1090.6 1832.2H1152.6M1090.6 1840.2H1152.6"/><circle cx="1121.6" cy="1836.2" r="24.6" fill="#0000FF"/><path fill="none" stroke-linecap="round" d="M1126.0 1818.1H1188.0M1126.0 1826.1H1188.0"/><circle cx="1157.0" cy="1822.1" r="24.6" fill="#0000FF"/><path fill="none" stroke-linecap="round" d="M1161.4 1801.2H1223.4M1161.4 1809.2H1223.4"/><circle cx="1192.4" cy="1805.2" r="24.6" fill="#0000FF"/><path fill="none" stroke-linecap="round" d="M1196.8 1782.8H1258.8M1196.8 1790.8H1258.8"/><circle cx="1227.8" cy="1786.8" r="24.6" fill="#0000FF"/><path fill="none" stroke-linecap="round" d="M1232.2 1764.4H1294.2M1232.2 1772.4H1294.2"/><circle cx="1263.2" cy="1768.4" r="24.6" fill="#0000FF"/><path fill="none" stroke-linecap="round" d="M1267.6 1746.1H1329.6M1267.6 1754.1H1329.6"/><circle cx="1298.6" cy="1750.1" r="24.6" fill="#0000FF"/><path fill="none" stroke-linecap="round" d="M1303.0 1729.4H1365.0M1303.0 1737.4H1365.0"/><circle cx="1334.0" cy="1733.4" r="24.6" fill="#0000FF"/><path fill="none" stroke-linecap="round" d="M1338.4 1706.2H1400.4M1338.4 1714.2H1400.4"/><circle cx="1369.4" cy="1710.2" r="24.6" fill="#0000FF"/><path fill="none" stroke-linecap="round" d="M1373.8 1684.5H1435.8M1373.8 1692.5H1435.8"/><circle cx="1404.8" cy="1688.5" r="24.6" fill="#0000FF"/><path fill="none" stroke-linecap="round" d="M1409.2 1660.4H1471.2M1409.2 1668.4H1471.2"/><circle cx="1440.2" cy="1664.4" r="24.6" fill="#0000FF"/><path fill="none" stroke-linecap="round" d="M1444.6 1633.6H1506.6M1444.6 1641.6H1506.6"/><circle cx="1475.6" cy="1637.6" r="24.6" fill="#0000FF"/><path fill="none" stroke-linecap="round" d="M1480.0 1604.2H1542.0M1480.0 1612.2H1542.0"/><circle cx="1511.0" cy="1608.2" r="24.6" fill="#0000FF"/><path fill="none" stroke-linecap="round" d="M1515.4 1575.1H1577.4M1515.4 1583.1H1577.4"/><circle cx="1546.4" cy="1579.1" r="24.6" fill="#0000FF"/><path fill="none" stroke-linecap="round" d="M1550.8 1541.2H1612.8M1550.8 1549.2H1612.8"/><circle cx="1581.8" cy="1545.2" r="24.6" fill="#0000FF"/><path fill="none" stroke-linecap="round" d="M1586.2 1496.3H1648.2M1586.2 1504.3H1648.2"/><circle cx="1617.2" cy="1500.3" r="24.6" fill="#0000FF"/><path fill="none" stroke-linecap="round" d="M1621.6 1453.6H1683.6M1621.6 1461.6H1683.6"/><circle cx="1652.6" cy="1457.6" r="24.6" fill="#0000FF"/><path fill="none" stroke-linecap="round" d="M1657.0 1403.9H1719.0M1657.0 1411.9H1719.0"/><circle cx="1688.0" cy="1407.9" r="24.6" fill="#0000FF"/><path fill="none" stroke-linecap="round" d="M1692.4 1352.4H1754.4M1692.4 1360.4H1754.4"/><circle cx="1723.4" cy="1356.4" r="24.6" fill="#0000FF"/><path fill="none" stroke-linecap="round" d="M1727.8 1276.1H1789.8M1727.8 1284.1H1789.8"/><circle cx="1758.8" cy="1280.1" r="24.6" fill="#0000FF"/><path fill="none" stroke-linecap="round" d="M1763.2 1185.2H1825.2M1763.2 1193.2H1825.2"/><circle cx="1794.2" cy="1189.2" r="24.6" fill="#0000FF"/><path fill="none" stroke-linecap="round" d="M1798.6 1137.1H1860.6M1798.6 1145.1H1860.6"/><circle cx="1829.6" cy="1141.1" r="24.6" fill="#0000FF"/><path fill="none" stroke-linecap="round" d="M1834.0 1077.8H1896.0M1834.0 1085.8H1896.0"/><circle cx="1865.0" cy="1081.8" r="24.6" fill="#0000FF"/><path fill="none" stroke-linecap="round" d="M1869.4 1010.0H1931.4M1869.4 1018.0H1931.4"/><circle cx="1900.4" cy="1014.0" r="24.6" fill="#0000FF"/><path fill="none" stroke-linecap="round" d="M1904.8 930.8H1966.8M1904.8 938.8H1966.8"/><circle cx="1935.8" cy="934.8" r="24.6" fill="#0000FF"/><path fill="none" stroke-linecap="round" d="M1940.2 860.2H2002.2M1940.2 868.2H2002.2"/><circle cx="1971.2" cy="864.2" r="24.6" fill="#0000FF"/><path fill="none" stroke-linecap="round" d="M1975.6 803.7H2037.6M1975.6 811.7H2037.6"/><circle cx="2006.6" cy="807.7" r="24.6" fill="#0000FF"/><path fill="none" stroke-linecap="round" d="M2011.0 747.2H2073.0M2011.0 755.2H2073.0"/><circle cx="2042.0" cy="751.2" r="24.6" fill="#0000FF"/><path fill="none" stroke-linecap="round" d="M2046.4 696.3H2108.4M2046.4 704.3H2108.4"/><circle cx="2077.4" cy="700.3" r="24.6" fill="#0000FF"/><path fill="none" stroke-linecap="round" d="M2081.8 662.4H2143.8M2081.8 670.4H2143.8"/><circle cx="2112.8" cy="666.4" r="24.6" fill="#0000FF"/><path fill="none" stroke-linecap="round" d="M2117.2 642.6H2179.2M2117.2 650.6H2179.2"/><circle cx="2148.2" cy="646.6" r="24.6" fill="#0000FF"/><path fill="none" stroke-linecap="round" d="M2152.6 632.7H2214.6M2152.6 640.7H2214.6"/><circle cx="2183.6" cy="636.7" r="24.6" fill="#0000FF"/><path fill="none" stroke-linecap="round" d="M2188.0 620.3H2250.0M2188.0 628.3H2250.0"/><circle cx="2219.0" cy="624.3" r="24.6" fill="#0000FF"/><path fill="none" stroke-linecap="round" d="M2223.4 615.8H2285.4M2223.4 623.8H2285.4"/><circle cx="2254.4" cy="619.8" r="24.6" fill="#0000FF"/><path fill="none" stroke-linecap="round" d="M2258.8 613.5H2320.8M2258.8 621.5H2320.8"/><circle cx="2289.8" cy="617.5" r="24.6" fill="#0000FF"/><path fill="none" stroke-linecap="round" d="M2294.2 611.3H2356.2M2294.2 619.3H2356.2"/><circle cx="2325.2" cy="615.3" r="24.6" fill="#0000FF"/><path fill="none" stroke-linecap="round" d="M2329.6 609.0H2391.6M2329.6 617.0H2391.6"/><circle cx="2360.6" cy="613.0" r="24.6" fill="#0000FF"/><path fill="none" stroke-linecap="round" d="M2365.0 606.7H2427.0M2365.0 614.7H2427.0"/><circle cx="2396.0" cy="610.7" r="24.6" fill="#0000FF"/><path fill="none" stroke-linecap="round" d="M2400.4 600.0H2462.4M2400.4 608.0H2462.4"/><circle cx="2431.4" cy="604.0" r="24.6" fill="#0000FF"/><path fill="none" stroke-linecap="round" d="M2435.8 593.2H2497.8M2435.8 601.2H2497.8"/><circle cx="2466.8" cy="597.2" r="24.6" fill="#0000FF"/><path fill="none" stroke-linecap="round" d="M2471.2 586.4H2533.2M2471.2 594.4H2533.2"/><circle cx="2502.2" cy="590.4" r="24.6" fill="#0000FF"/><path fill="none" stroke-linecap="round" d="M2506.6 584.1H2568.6M2506.6 592.1H2568.6"/><circle cx="2537.6" cy="588.1" r="24.6" fill="#0000FF"/><path fill="none" stroke-linecap="round" d="M2542.0 581.9H2604.0M2542.0 589.9H2604.0"/><circle cx="2573.0" cy="585.9" r="24.6" fill="#0000FF"/><path fill="none" stroke-linecap="round" d="M2577.4 574.8H2639.4M2577.4 582.8H2639.4"/><circle cx="2608.4" cy="578.8" r="24.6" fill="#0000FF"/><path fill="none" stroke-linecap="round" d="M2612.8 572.0H2674.8M2612.8 580.0H2674.8"/><circle cx="2643.8" cy="576.0" r="24.6" fill="#0000FF"/><path fill="none" stroke-linecap="round" d="M2648.2 569.2H2710.2M2648.2 577.2H2710.2"/><circle cx="2679.2" cy="573.2" r="24.6" fill="#0000FF"/><path fill="none" stroke-linecap="round" d="M2683.6 569.2H2745.6M2683.6 577.2H2745.6"/><circle cx="2714.6" cy="573.2" r="24.6" fill="#0000FF"/><path fill="none" stroke-linecap="round" d="M2719.0 567.7H2781.0M2719.0 575.7H2781.0"/><circle cx="2750.0" cy="571.7" r="24.6" fill="#0000FF"/><path fill="none" stroke-linecap="round" d="M2754.4 566.3H2816.4M2754.4 574.3H2816.4"/><circle cx="2785.4" cy="570.3" r="24.6" fill="#0000FF"/><path fill="none" stroke-linecap="round" d="M2789.8 566.3H2851.8M2789.8 574.3H2851.8"/><circle cx="2820.8" cy="570.3" r="24.6" fill="#0000FF"/><path fill="none" stroke-linecap="round" d="M2825.2 566.3H2887.2M2825.2 574.3H2887.2"/><circle cx="2856.2" cy="570.3" r="24.6" fill="#0000FF"/><path fill="none" stroke-linecap="round" d="M2860.6 566.3H2922.6M2860.6 574.3H2922.6"/><circle cx="2891.6" cy="570.3" r="24.6" fill="#0000FF"/><path fill="none" stroke-linecap="round" d="M2896.0 569.2H2958.0M2896.0 577.2H2958.0"/><circle cx="2927.0" cy="573.2" r="24.6" fill="#0000FF"/><path fill="none" stroke-linecap="round" d="M2931.4 569.2H2993.4M2931.4 577.2H2993.4"/><circle cx="2962.4" cy="573.2" r="24.6" fill="#0000FF"/></g>
<polyline points="626.0,2021.3 661.4,2019.4 696.8,2012.9 732.2,2003.0 767.6,1983.2 803.0,1957.8 838.4,1923.8 873.8,1887.1 909.2,1847.5 944.6,1824.9 980.0,1803.5 1015.4,1784.5 1050.8,1764.2 1086.2,1734.5 1121.6,1706.0 1157.0,1672.6 1192.4,1641.6 1227.8,1611.6 1263.2,1588.4 1298.6,1555.1 1334.0,1527.4 1369.4,1490.1 1404.8,1453.6 1440.2,1422.3 1475.6,1388.1 1511.0,1363.2 1546.4,1329.3 1581.8,1286.6 1617.2,1244.0 1652.6,1205.6 1688.0,1174.2 1723.4,1142.8 1758.8,1112.3 1794.2,1076.1 1829.6,1049.6 1865.0,1013.1 1900.4,971.6 1935.8,944.5 1971.2,880.9 2006.6,831.4 2042.0,779.7 2077.4,726.0 2112.8,685.3 2148.2,678.6 2183.6,673.5 2219.0,670.4 2254.4,665.6 2289.8,663.9 2325.2,661.6 2360.6,659.3 2396.0,654.8 2431.4,650.3 2466.8,645.8 2502.2,639.0 2537.6,636.7 2573.0,635.3 2608.4,636.7 2643.8,636.7 2679.2,635.3 2714.6,636.7 2750.0,636.7 2785.4,636.7 2820.8,635.3 2856.2,635.3 2891.6,633.1 2927.0,636.7 2962.4,633.1" fill="none" stroke="#000" stroke-width="5" stroke-linejoin="round"/>
<g stroke="#000" stroke-width="5.8"><path fill="none" stroke-linecap="round" d="M595.0 2009.3H657.0M595.0 2033.3H657.0"/><circle cx="626.0" cy="2021.3" r="24.6" fill="#FF00FF"/><path fill="none" stroke-linecap="round" d="M630.4 2007.4H692.4M630.4 2031.4H692.4"/><circle cx="661.4" cy="2019.4" r="24.6" fill="#FF00FF"/><path fill="none" stroke-linecap="round" d="M665.8 2000.9H727.8M665.8 2024.9H727.8"/><circle cx="696.8" cy="2012.9" r="24.6" fill="#FF00FF"/><path fill="none" stroke-linecap="round" d="M701.2 1991.0H763.2M701.2 2015.0H763.2"/><circle cx="732.2" cy="2003.0" r="24.6" fill="#FF00FF"/><path fill="none" stroke-linecap="round" d="M736.6 1971.2H798.6M736.6 1995.2H798.6"/><circle cx="767.6" cy="1983.2" r="24.6" fill="#FF00FF"/><path fill="none" stroke-linecap="round" d="M772.0 1945.8H834.0M772.0 1969.8H834.0"/><circle cx="803.0" cy="1957.8" r="24.6" fill="#FF00FF"/><path fill="none" stroke-linecap="round" d="M807.4 1911.8H869.4M807.4 1935.8H869.4"/><circle cx="838.4" cy="1923.8" r="24.6" fill="#FF00FF"/><path fill="none" stroke-linecap="round" d="M842.8 1875.1H904.8M842.8 1899.1H904.8"/><circle cx="873.8" cy="1887.1" r="24.6" fill="#FF00FF"/><path fill="none" stroke-linecap="round" d="M878.2 1835.5H940.2M878.2 1859.5H940.2"/><circle cx="909.2" cy="1847.5" r="24.6" fill="#FF00FF"/><path fill="none" stroke-linecap="round" d="M913.6 1812.9H975.6M913.6 1836.9H975.6"/><circle cx="944.6" cy="1824.9" r="24.6" fill="#FF00FF"/><path fill="none" stroke-linecap="round" d="M949.0 1791.5H1011.0M949.0 1815.5H1011.0"/><circle cx="980.0" cy="1803.5" r="24.6" fill="#FF00FF"/><path fill="none" stroke-linecap="round" d="M984.4 1772.5H1046.4M984.4 1796.5H1046.4"/><circle cx="1015.4" cy="1784.5" r="24.6" fill="#FF00FF"/><path fill="none" stroke-linecap="round" d="M1019.8 1752.2H1081.8M1019.8 1776.2H1081.8"/><circle cx="1050.8" cy="1764.2" r="24.6" fill="#FF00FF"/><path fill="none" stroke-linecap="round" d="M1055.2 1722.5H1117.2M1055.2 1746.5H1117.2"/><circle cx="1086.2" cy="1734.5" r="24.6" fill="#FF00FF"/><path fill="none" stroke-linecap="round" d="M1090.6 1694.0H1152.6M1090.6 1718.0H1152.6"/><circle cx="1121.6" cy="1706.0" r="24.6" fill="#FF00FF"/><path fill="none" stroke-linecap="round" d="M1126.0 1660.6H1188.0M1126.0 1684.6H1188.0"/><circle cx="1157.0" cy="1672.6" r="24.6" fill="#FF00FF"/><path fill="none" stroke-linecap="round" d="M1161.4 1629.6H1223.4M1161.4 1653.6H1223.4"/><circle cx="1192.4" cy="1641.6" r="24.6" fill="#FF00FF"/><path fill="none" stroke-linecap="round" d="M1196.8 1599.6H1258.8M1196.8 1623.6H1258.8"/><circle cx="1227.8" cy="1611.6" r="24.6" fill="#FF00FF"/><path fill="none" stroke-linecap="round" d="M1232.2 1576.4H1294.2M1232.2 1600.4H1294.2"/><circle cx="1263.2" cy="1588.4" r="24.6" fill="#FF00FF"/><path fill="none" stroke-linecap="round" d="M1267.6 1543.1H1329.6M1267.6 1567.1H1329.6"/><circle cx="1298.6" cy="1555.1" r="24.6" fill="#FF00FF"/><path fill="none" stroke-linecap="round" d="M1303.0 1515.4H1365.0M1303.0 1539.4H1365.0"/><circle cx="1334.0" cy="1527.4" r="24.6" fill="#FF00FF"/><path fill="none" stroke-linecap="round" d="M1338.4 1478.1H1400.4M1338.4 1502.1H1400.4"/><circle cx="1369.4" cy="1490.1" r="24.6" fill="#FF00FF"/><path fill="none" stroke-linecap="round" d="M1373.8 1441.6H1435.8M1373.8 1465.6H1435.8"/><circle cx="1404.8" cy="1453.6" r="24.6" fill="#FF00FF"/><path fill="none" stroke-linecap="round" d="M1409.2 1410.3H1471.2M1409.2 1434.3H1471.2"/><circle cx="1440.2" cy="1422.3" r="24.6" fill="#FF00FF"/><path fill="none" stroke-linecap="round" d="M1444.6 1376.1H1506.6M1444.6 1400.1H1506.6"/><circle cx="1475.6" cy="1388.1" r="24.6" fill="#FF00FF"/><path fill="none" stroke-linecap="round" d="M1480.0 1351.2H1542.0M1480.0 1375.2H1542.0"/><circle cx="1511.0" cy="1363.2" r="24.6" fill="#FF00FF"/><path fill="none" stroke-linecap="round" d="M1515.4 1317.3H1577.4M1515.4 1341.3H1577.4"/><circle cx="1546.4" cy="1329.3" r="24.6" fill="#FF00FF"/><path fill="none" stroke-linecap="round" d="M1550.8 1274.6H1612.8M1550.8 1298.6H1612.8"/><circle cx="1581.8" cy="1286.6" r="24.6" fill="#FF00FF"/><path fill="none" stroke-linecap="round" d="M1586.2 1232.0H1648.2M1586.2 1256.0H1648.2"/><circle cx="1617.2" cy="1244.0" r="24.6" fill="#FF00FF"/><path fill="none" stroke-linecap="round" d="M1621.6 1193.6H1683.6M1621.6 1217.6H1683.6"/><circle cx="1652.6" cy="1205.6" r="24.6" fill="#FF00FF"/><path fill="none" stroke-linecap="round" d="M1657.0 1162.2H1719.0M1657.0 1186.2H1719.0"/><circle cx="1688.0" cy="1174.2" r="24.6" fill="#FF00FF"/><path fill="none" stroke-linecap="round" d="M1692.4 1130.8H1754.4M1692.4 1154.8H1754.4"/><circle cx="1723.4" cy="1142.8" r="24.6" fill="#FF00FF"/><path fill="none" stroke-linecap="round" d="M1727.8 1100.3H1789.8M1727.8 1124.3H1789.8"/><circle cx="1758.8" cy="1112.3" r="24.6" fill="#FF00FF"/><path fill="none" stroke-linecap="round" d="M1763.2 1064.1H1825.2M1763.2 1088.1H1825.2"/><circle cx="1794.2" cy="1076.1" r="24.6" fill="#FF00FF"/><path fill="none" stroke-linecap="round" d="M1798.6 1037.6H1860.6M1798.6 1061.6H1860.6"/><circle cx="1829.6" cy="1049.6" r="24.6" fill="#FF00FF"/><path fill="none" stroke-linecap="round" d="M1834.0 1001.1H1896.0M1834.0 1025.1H1896.0"/><circle cx="1865.0" cy="1013.1" r="24.6" fill="#FF00FF"/><path fill="none" stroke-linecap="round" d="M1869.4 958.6H1931.4M1869.4 984.6H1931.4"/><circle cx="1900.4" cy="971.6" r="24.6" fill="#FF00FF"/><path fill="none" stroke-linecap="round" d="M1904.8 931.5H1966.8M1904.8 957.5H1966.8"/><circle cx="1935.8" cy="944.5" r="24.6" fill="#FF00FF"/><path fill="none" stroke-linecap="round" d="M1940.2 855.9H2002.2M1940.2 905.9H2002.2"/><circle cx="1971.2" cy="880.9" r="24.6" fill="#FF00FF"/><path fill="none" stroke-linecap="round" d="M1975.6 804.9H2037.6M1975.6 857.9H2037.6"/><circle cx="2006.6" cy="831.4" r="24.6" fill="#FF00FF"/><path fill="none" stroke-linecap="round" d="M2011.0 750.7H2073.0M2011.0 808.7H2073.0"/><circle cx="2042.0" cy="779.7" r="24.6" fill="#FF00FF"/><path fill="none" stroke-linecap="round" d="M2046.4 698.2H2108.4M2046.4 753.8H2108.4"/><circle cx="2077.4" cy="726.0" r="24.6" fill="#FF00FF"/><path fill="none" stroke-linecap="round" d="M2081.8 660.3H2143.8M2081.8 710.3H2143.8"/><circle cx="2112.8" cy="685.3" r="24.6" fill="#FF00FF"/><path fill="none" stroke-linecap="round" d="M2117.2 666.6H2179.2M2117.2 690.6H2179.2"/><circle cx="2148.2" cy="678.6" r="24.6" fill="#FF00FF"/><path fill="none" stroke-linecap="round" d="M2152.6 661.5H2214.6M2152.6 685.5H2214.6"/><circle cx="2183.6" cy="673.5" r="24.6" fill="#FF00FF"/><path fill="none" stroke-linecap="round" d="M2188.0 658.4H2250.0M2188.0 682.4H2250.0"/><circle cx="2219.0" cy="670.4" r="24.6" fill="#FF00FF"/><path fill="none" stroke-linecap="round" d="M2223.4 653.6H2285.4M2223.4 677.6H2285.4"/><circle cx="2254.4" cy="665.6" r="24.6" fill="#FF00FF"/><path fill="none" stroke-linecap="round" d="M2258.8 651.9H2320.8M2258.8 675.9H2320.8"/><circle cx="2289.8" cy="663.9" r="24.6" fill="#FF00FF"/><path fill="none" stroke-linecap="round" d="M2294.2 649.6H2356.2M2294.2 673.6H2356.2"/><circle cx="2325.2" cy="661.6" r="24.6" fill="#FF00FF"/><path fill="none" stroke-linecap="round" d="M2329.6 647.3H2391.6M2329.6 671.3H2391.6"/><circle cx="2360.6" cy="659.3" r="24.6" fill="#FF00FF"/><path fill="none" stroke-linecap="round" d="M2365.0 642.8H2427.0M2365.0 666.8H2427.0"/><circle cx="2396.0" cy="654.8" r="24.6" fill="#FF00FF"/><path fill="none" stroke-linecap="round" d="M2400.4 638.3H2462.4M2400.4 662.3H2462.4"/><circle cx="2431.4" cy="650.3" r="24.6" fill="#FF00FF"/><path fill="none" stroke-linecap="round" d="M2435.8 633.8H2497.8M2435.8 657.8H2497.8"/><circle cx="2466.8" cy="645.8" r="24.6" fill="#FF00FF"/><path fill="none" stroke-linecap="round" d="M2471.2 627.0H2533.2M2471.2 651.0H2533.2"/><circle cx="2502.2" cy="639.0" r="24.6" fill="#FF00FF"/><path fill="none" stroke-linecap="round" d="M2506.6 624.7H2568.6M2506.6 648.7H2568.6"/><circle cx="2537.6" cy="636.7" r="24.6" fill="#FF00FF"/><path fill="none" stroke-linecap="round" d="M2542.0 623.3H2604.0M2542.0 647.3H2604.0"/><circle cx="2573.0" cy="635.3" r="24.6" fill="#FF00FF"/><path fill="none" stroke-linecap="round" d="M2577.4 624.7H2639.4M2577.4 648.7H2639.4"/><circle cx="2608.4" cy="636.7" r="24.6" fill="#FF00FF"/><path fill="none" stroke-linecap="round" d="M2612.8 624.7H2674.8M2612.8 648.7H2674.8"/><circle cx="2643.8" cy="636.7" r="24.6" fill="#FF00FF"/><path fill="none" stroke-linecap="round" d="M2648.2 623.3H2710.2M2648.2 647.3H2710.2"/><circle cx="2679.2" cy="635.3" r="24.6" fill="#FF00FF"/><path fill="none" stroke-linecap="round" d="M2683.6 624.7H2745.6M2683.6 648.7H2745.6"/><circle cx="2714.6" cy="636.7" r="24.6" fill="#FF00FF"/><path fill="none" stroke-linecap="round" d="M2719.0 611.7H2781.0M2719.0 661.7H2781.0"/><circle cx="2750.0" cy="636.7" r="24.6" fill="#FF00FF"/><path fill="none" stroke-linecap="round" d="M2754.4 611.7H2816.4M2754.4 661.7H2816.4"/><circle cx="2785.4" cy="636.7" r="24.6" fill="#FF00FF"/><path fill="none" stroke-linecap="round" d="M2789.8 610.3H2851.8M2789.8 660.3H2851.8"/><circle cx="2820.8" cy="635.3" r="24.6" fill="#FF00FF"/><path fill="none" stroke-linecap="round" d="M2825.2 610.3H2887.2M2825.2 660.3H2887.2"/><circle cx="2856.2" cy="635.3" r="24.6" fill="#FF00FF"/><path fill="none" stroke-linecap="round" d="M2860.6 608.1H2922.6M2860.6 658.1H2922.6"/><circle cx="2891.6" cy="633.1" r="24.6" fill="#FF00FF"/><path fill="none" stroke-linecap="round" d="M2896.0 611.7H2958.0M2896.0 661.7H2958.0"/><circle cx="2927.0" cy="636.7" r="24.6" fill="#FF00FF"/><path fill="none" stroke-linecap="round" d="M2931.4 608.1H2993.4M2931.4 658.1H2993.4"/><circle cx="2962.4" cy="633.1" r="24.6" fill="#FF00FF"/></g>
<polyline points="626.0,2021.3 661.4,2019.4 696.8,2012.9 732.2,2003.0 767.6,1988.8 803.0,1971.9 838.4,1957.8 873.8,1945.9 909.2,1925.8 944.6,1910.6 980.0,1888.5 1015.4,1868.7 1050.8,1851.8 1086.2,1836.8 1121.6,1822.4 1157.0,1802.6 1192.4,1786.2 1227.8,1767.6 1263.2,1750.1 1298.6,1720.4 1334.0,1696.1 1369.4,1672.9 1404.8,1644.7 1440.2,1616.7 1475.6,1583.6 1511.0,1558.8 1546.4,1531.9 1581.8,1495.7 1617.2,1457.6 1652.6,1410.4 1688.0,1358.7 1723.4,1309.3 1758.8,1246.2 1794.2,1196.8 1829.6,1142.8 1865.0,1079.0 1900.4,1000.1 1935.8,921.6 1971.2,854.0 2006.6,797.8 2042.0,743.8 2077.4,694.4 2112.8,633.9 2148.2,609.0 2183.6,596.3 2219.0,591.8 2254.4,591.8 2289.8,588.1 2325.2,585.9 2360.6,583.6 2396.0,576.8 2431.4,570.1 2466.8,565.5 2502.2,553.1 2537.6,550.8 2573.0,550.8 2608.4,553.1 2643.8,555.4 2679.2,557.6 2714.6,559.9 2750.0,562.1 2785.4,562.1 2820.8,564.4 2856.2,564.4 2891.6,566.7 2927.0,571.2 2962.4,571.2" fill="none" stroke="#000" stroke-width="5" stroke-linejoin="round"/>
<g stroke="#000" stroke-width="5.8"><path fill="none" stroke-linecap="round" d="M595.0 2012.3H657.0M595.0 2030.3H657.0"/><circle cx="626.0" cy="2021.3" r="24.6" fill="#00FFFF"/><path fill="none" stroke-linecap="round" d="M630.4 2010.4H692.4M630.4 2028.4H692.4"/><circle cx="661.4" cy="2019.4" r="24.6" fill="#00FFFF"/><path fill="none" stroke-linecap="round" d="M665.8 2003.9H727.8M665.8 2021.9H727.8"/><circle cx="696.8" cy="2012.9" r="24.6" fill="#00FFFF"/><path fill="none" stroke-linecap="round" d="M701.2 1994.0H763.2M701.2 2012.0H763.2"/><circle cx="732.2" cy="2003.0" r="24.6" fill="#00FFFF"/><path fill="none" stroke-linecap="round" d="M736.6 1979.8H798.6M736.6 1997.8H798.6"/><circle cx="767.6" cy="1988.8" r="24.6" fill="#00FFFF"/><path fill="none" stroke-linecap="round" d="M772.0 1962.9H834.0M772.0 1980.9H834.0"/><circle cx="803.0" cy="1971.9" r="24.6" fill="#00FFFF"/><path fill="none" stroke-linecap="round" d="M807.4 1948.8H869.4M807.4 1966.8H869.4"/><circle cx="838.4" cy="1957.8" r="24.6" fill="#00FFFF"/><path fill="none" stroke-linecap="round" d="M842.8 1936.9H904.8M842.8 1954.9H904.8"/><circle cx="873.8" cy="1945.9" r="24.6" fill="#00FFFF"/><path fill="none" stroke-linecap="round" d="M878.2 1916.8H940.2M878.2 1934.8H940.2"/><circle cx="909.2" cy="1925.8" r="24.6" fill="#00FFFF"/><path fill="none" stroke-linecap="round" d="M913.6 1901.6H975.6M913.6 1919.6H975.6"/><circle cx="944.6" cy="1910.6" r="24.6" fill="#00FFFF"/><path fill="none" stroke-linecap="round" d="M949.0 1879.5H1011.0M949.0 1897.5H1011.0"/><circle cx="980.0" cy="1888.5" r="24.6" fill="#00FFFF"/><path fill="none" stroke-linecap="round" d="M984.4 1859.7H1046.4M984.4 1877.7H1046.4"/><circle cx="1015.4" cy="1868.7" r="24.6" fill="#00FFFF"/><path fill="none" stroke-linecap="round" d="M1019.8 1842.8H1081.8M1019.8 1860.8H1081.8"/><circle cx="1050.8" cy="1851.8" r="24.6" fill="#00FFFF"/><path fill="none" stroke-linecap="round" d="M1055.2 1827.8H1117.2M1055.2 1845.8H1117.2"/><circle cx="1086.2" cy="1836.8" r="24.6" fill="#00FFFF"/><path fill="none" stroke-linecap="round" d="M1090.6 1813.4H1152.6M1090.6 1831.4H1152.6"/><circle cx="1121.6" cy="1822.4" r="24.6" fill="#00FFFF"/><path fill="none" stroke-linecap="round" d="M1126.0 1793.6H1188.0M1126.0 1811.6H1188.0"/><circle cx="1157.0" cy="1802.6" r="24.6" fill="#00FFFF"/><path fill="none" stroke-linecap="round" d="M1161.4 1777.2H1223.4M1161.4 1795.2H1223.4"/><circle cx="1192.4" cy="1786.2" r="24.6" fill="#00FFFF"/><path fill="none" stroke-linecap="round" d="M1196.8 1758.6H1258.8M1196.8 1776.6H1258.8"/><circle cx="1227.8" cy="1767.6" r="24.6" fill="#00FFFF"/><path fill="none" stroke-linecap="round" d="M1232.2 1741.1H1294.2M1232.2 1759.1H1294.2"/><circle cx="1263.2" cy="1750.1" r="24.6" fill="#00FFFF"/><path fill="none" stroke-linecap="round" d="M1267.6 1711.4H1329.6M1267.6 1729.4H1329.6"/><circle cx="1298.6" cy="1720.4" r="24.6" fill="#00FFFF"/><path fill="none" stroke-linecap="round" d="M1303.0 1687.1H1365.0M1303.0 1705.1H1365.0"/><circle cx="1334.0" cy="1696.1" r="24.6" fill="#00FFFF"/><path fill="none" stroke-linecap="round" d="M1338.4 1663.9H1400.4M1338.4 1681.9H1400.4"/><circle cx="1369.4" cy="1672.9" r="24.6" fill="#00FFFF"/><path fill="none" stroke-linecap="round" d="M1373.8 1635.7H1435.8M1373.8 1653.7H1435.8"/><circle cx="1404.8" cy="1644.7" r="24.6" fill="#00FFFF"/><path fill="none" stroke-linecap="round" d="M1409.2 1607.7H1471.2M1409.2 1625.7H1471.2"/><circle cx="1440.2" cy="1616.7" r="24.6" fill="#00FFFF"/><path fill="none" stroke-linecap="round" d="M1444.6 1574.6H1506.6M1444.6 1592.6H1506.6"/><circle cx="1475.6" cy="1583.6" r="24.6" fill="#00FFFF"/><path fill="none" stroke-linecap="round" d="M1480.0 1549.8H1542.0M1480.0 1567.8H1542.0"/><circle cx="1511.0" cy="1558.8" r="24.6" fill="#00FFFF"/><path fill="none" stroke-linecap="round" d="M1515.4 1522.9H1577.4M1515.4 1540.9H1577.4"/><circle cx="1546.4" cy="1531.9" r="24.6" fill="#00FFFF"/><path fill="none" stroke-linecap="round" d="M1550.8 1486.7H1612.8M1550.8 1504.7H1612.8"/><circle cx="1581.8" cy="1495.7" r="24.6" fill="#00FFFF"/><path fill="none" stroke-linecap="round" d="M1586.2 1448.6H1648.2M1586.2 1466.6H1648.2"/><circle cx="1617.2" cy="1457.6" r="24.6" fill="#00FFFF"/><path fill="none" stroke-linecap="round" d="M1621.6 1401.4H1683.6M1621.6 1419.4H1683.6"/><circle cx="1652.6" cy="1410.4" r="24.6" fill="#00FFFF"/><path fill="none" stroke-linecap="round" d="M1657.0 1349.7H1719.0M1657.0 1367.7H1719.0"/><circle cx="1688.0" cy="1358.7" r="24.6" fill="#00FFFF"/><path fill="none" stroke-linecap="round" d="M1692.4 1300.3H1754.4M1692.4 1318.3H1754.4"/><circle cx="1723.4" cy="1309.3" r="24.6" fill="#00FFFF"/><path fill="none" stroke-linecap="round" d="M1727.8 1237.2H1789.8M1727.8 1255.2H1789.8"/><circle cx="1758.8" cy="1246.2" r="24.6" fill="#00FFFF"/><path fill="none" stroke-linecap="round" d="M1763.2 1187.8H1825.2M1763.2 1205.8H1825.2"/><circle cx="1794.2" cy="1196.8" r="24.6" fill="#00FFFF"/><path fill="none" stroke-linecap="round" d="M1798.6 1133.8H1860.6M1798.6 1151.8H1860.6"/><circle cx="1829.6" cy="1142.8" r="24.6" fill="#00FFFF"/><path fill="none" stroke-linecap="round" d="M1834.0 1070.0H1896.0M1834.0 1088.0H1896.0"/><circle cx="1865.0" cy="1079.0" r="24.6" fill="#00FFFF"/><path fill="none" stroke-linecap="round" d="M1869.4 988.1H1931.4M1869.4 1012.1H1931.4"/><circle cx="1900.4" cy="1000.1" r="24.6" fill="#00FFFF"/><path fill="none" stroke-linecap="round" d="M1904.8 909.6H1966.8M1904.8 933.6H1966.8"/><circle cx="1935.8" cy="921.6" r="24.6" fill="#00FFFF"/><path fill="none" stroke-linecap="round" d="M1940.2 842.0H2002.2M1940.2 866.0H2002.2"/><circle cx="1971.2" cy="854.0" r="24.6" fill="#00FFFF"/><path fill="none" stroke-linecap="round" d="M1975.6 785.8H2037.6M1975.6 809.8H2037.6"/><circle cx="2006.6" cy="797.8" r="24.6" fill="#00FFFF"/><path fill="none" stroke-linecap="round" d="M2011.0 731.8H2073.0M2011.0 755.8H2073.0"/><circle cx="2042.0" cy="743.8" r="24.6" fill="#00FFFF"/><path fill="none" stroke-linecap="round" d="M2046.4 682.4H2108.4M2046.4 706.4H2108.4"/><circle cx="2077.4" cy="694.4" r="24.6" fill="#00FFFF"/><path fill="none" stroke-linecap="round" d="M2081.8 623.9H2143.8M2081.8 643.9H2143.8"/><circle cx="2112.8" cy="633.9" r="24.6" fill="#00FFFF"/><path fill="none" stroke-linecap="round" d="M2117.2 600.0H2179.2M2117.2 618.0H2179.2"/><circle cx="2148.2" cy="609.0" r="24.6" fill="#00FFFF"/><path fill="none" stroke-linecap="round" d="M2152.6 587.3H2214.6M2152.6 605.3H2214.6"/><circle cx="2183.6" cy="596.3" r="24.6" fill="#00FFFF"/><path fill="none" stroke-linecap="round" d="M2188.0 582.8H2250.0M2188.0 600.8H2250.0"/><circle cx="2219.0" cy="591.8" r="24.6" fill="#00FFFF"/><path fill="none" stroke-linecap="round" d="M2223.4 582.8H2285.4M2223.4 600.8H2285.4"/><circle cx="2254.4" cy="591.8" r="24.6" fill="#00FFFF"/><path fill="none" stroke-linecap="round" d="M2258.8 579.1H2320.8M2258.8 597.1H2320.8"/><circle cx="2289.8" cy="588.1" r="24.6" fill="#00FFFF"/><path fill="none" stroke-linecap="round" d="M2294.2 576.9H2356.2M2294.2 594.9H2356.2"/><circle cx="2325.2" cy="585.9" r="24.6" fill="#00FFFF"/><path fill="none" stroke-linecap="round" d="M2329.6 574.6H2391.6M2329.6 592.6H2391.6"/><circle cx="2360.6" cy="583.6" r="24.6" fill="#00FFFF"/><path fill="none" stroke-linecap="round" d="M2365.0 567.8H2427.0M2365.0 585.8H2427.0"/><circle cx="2396.0" cy="576.8" r="24.6" fill="#00FFFF"/><path fill="none" stroke-linecap="round" d="M2400.4 561.1H2462.4M2400.4 579.1H2462.4"/><circle cx="2431.4" cy="570.1" r="24.6" fill="#00FFFF"/><path fill="none" stroke-linecap="round" d="M2435.8 556.5H2497.8M2435.8 574.5H2497.8"/><circle cx="2466.8" cy="565.5" r="24.6" fill="#00FFFF"/><path fill="none" stroke-linecap="round" d="M2471.2 544.1H2533.2M2471.2 562.1H2533.2"/><circle cx="2502.2" cy="553.1" r="24.6" fill="#00FFFF"/><path fill="none" stroke-linecap="round" d="M2506.6 541.8H2568.6M2506.6 559.8H2568.6"/><circle cx="2537.6" cy="550.8" r="24.6" fill="#00FFFF"/><path fill="none" stroke-linecap="round" d="M2542.0 541.8H2604.0M2542.0 559.8H2604.0"/><circle cx="2573.0" cy="550.8" r="24.6" fill="#00FFFF"/><path fill="none" stroke-linecap="round" d="M2577.4 544.1H2639.4M2577.4 562.1H2639.4"/><circle cx="2608.4" cy="553.1" r="24.6" fill="#00FFFF"/><path fill="none" stroke-linecap="round" d="M2612.8 546.4H2674.8M2612.8 564.4H2674.8"/><circle cx="2643.8" cy="555.4" r="24.6" fill="#00FFFF"/><path fill="none" stroke-linecap="round" d="M2648.2 548.6H2710.2M2648.2 566.6H2710.2"/><circle cx="2679.2" cy="557.6" r="24.6" fill="#00FFFF"/><path fill="none" stroke-linecap="round" d="M2683.6 550.9H2745.6M2683.6 568.9H2745.6"/><circle cx="2714.6" cy="559.9" r="24.6" fill="#00FFFF"/><path fill="none" stroke-linecap="round" d="M2719.0 553.1H2781.0M2719.0 571.1H2781.0"/><circle cx="2750.0" cy="562.1" r="24.6" fill="#00FFFF"/><path fill="none" stroke-linecap="round" d="M2754.4 553.1H2816.4M2754.4 571.1H2816.4"/><circle cx="2785.4" cy="562.1" r="24.6" fill="#00FFFF"/><path fill="none" stroke-linecap="round" d="M2789.8 555.4H2851.8M2789.8 573.4H2851.8"/><circle cx="2820.8" cy="564.4" r="24.6" fill="#00FFFF"/><path fill="none" stroke-linecap="round" d="M2825.2 555.4H2887.2M2825.2 573.4H2887.2"/><circle cx="2856.2" cy="564.4" r="24.6" fill="#00FFFF"/><path fill="none" stroke-linecap="round" d="M2860.6 557.7H2922.6M2860.6 575.7H2922.6"/><circle cx="2891.6" cy="566.7" r="24.6" fill="#00FFFF"/><path fill="none" stroke-linecap="round" d="M2896.0 562.2H2958.0M2896.0 580.2H2958.0"/><circle cx="2927.0" cy="571.2" r="24.6" fill="#00FFFF"/><path fill="none" stroke-linecap="round" d="M2931.4 562.2H2993.4M2931.4 580.2H2993.4"/><circle cx="2962.4" cy="571.2" r="24.6" fill="#00FFFF"/></g>
<polyline points="626.0,2019.9 661.4,2017.1 696.8,2011.4 732.2,2000.1 767.6,1983.2 803.0,1957.8 838.4,1925.3 873.8,1882.9 909.2,1822.1 944.6,1775.5 980.0,1745.8 1015.4,1715.3 1050.8,1687.9 1086.2,1651.4 1121.6,1611.6 1157.0,1560.7 1192.4,1512.1 1227.8,1449.1 1263.2,1379.0 1298.6,1304.7 1334.0,1228.7 1369.4,1160.9 1404.8,1080.1 1440.2,1001.3 1475.6,945.3 1511.0,912.5 1546.4,880.9 1581.8,847.3 1617.2,815.9 1652.6,786.8 1688.0,752.9 1723.4,719.2 1758.8,684.5 1794.2,650.9 1829.6,626.0 1865.0,598.6 1900.4,573.2 1935.8,546.0 1971.2,527.9 2006.6,517.8 2042.0,514.4 2077.4,511.0 2112.8,511.0 2148.2,511.0 2183.6,511.0 2219.0,511.0 2254.4,511.0 2289.8,511.0 2325.2,511.0 2360.6,511.0 2396.0,511.0 2431.4,512.4 2466.8,513.0 2502.2,513.0 2537.6,517.5 2573.0,522.0 2608.4,522.0 2643.8,526.5 2679.2,528.8 2714.6,533.3 2750.0,537.8 2785.4,537.8 2820.8,537.8 2856.2,542.4 2891.6,544.6 2927.0,551.4 2962.4,549.1" fill="none" stroke="#000" stroke-width="5" stroke-linejoin="round"/>
<g stroke="#000" stroke-width="5.8"><path fill="none" stroke-linecap="round" d="M595.0 2016.4H657.0M595.0 2023.4H657.0"/><circle cx="626.0" cy="2019.9" r="24.6" fill="#C0C0C0"/><path fill="none" stroke-linecap="round" d="M630.4 2013.6H692.4M630.4 2020.6H692.4"/><circle cx="661.4" cy="2017.1" r="24.6" fill="#C0C0C0"/><path fill="none" stroke-linecap="round" d="M665.8 2007.9H727.8M665.8 2014.9H727.8"/><circle cx="696.8" cy="2011.4" r="24.6" fill="#C0C0C0"/><path fill="none" stroke-linecap="round" d="M701.2 1996.6H763.2M701.2 2003.6H763.2"/><circle cx="732.2" cy="2000.1" r="24.6" fill="#C0C0C0"/><path fill="none" stroke-linecap="round" d="M736.6 1979.7H798.6M736.6 1986.7H798.6"/><circle cx="767.6" cy="1983.2" r="24.6" fill="#C0C0C0"/><path fill="none" stroke-linecap="round" d="M772.0 1954.3H834.0M772.0 1961.3H834.0"/><circle cx="803.0" cy="1957.8" r="24.6" fill="#C0C0C0"/><path fill="none" stroke-linecap="round" d="M807.4 1921.8H869.4M807.4 1928.8H869.4"/><circle cx="838.4" cy="1925.3" r="24.6" fill="#C0C0C0"/><path fill="none" stroke-linecap="round" d="M842.8 1879.4H904.8M842.8 1886.4H904.8"/><circle cx="873.8" cy="1882.9" r="24.6" fill="#C0C0C0"/><path fill="none" stroke-linecap="round" d="M878.2 1818.6H940.2M878.2 1825.6H940.2"/><circle cx="909.2" cy="1822.1" r="24.6" fill="#C0C0C0"/><path fill="none" stroke-linecap="round" d="M913.6 1772.0H975.6M913.6 1779.0H975.6"/><circle cx="944.6" cy="1775.5" r="24.6" fill="#C0C0C0"/><path fill="none" stroke-linecap="round" d="M949.0 1742.3H1011.0M949.0 1749.3H1011.0"/><circle cx="980.0" cy="1745.8" r="24.6" fill="#C0C0C0"/><path fill="none" stroke-linecap="round" d="M984.4 1711.8H1046.4M984.4 1718.8H1046.4"/><circle cx="1015.4" cy="1715.3" r="24.6" fill="#C0C0C0"/><path fill="none" stroke-linecap="round" d="M1019.8 1684.4H1081.8M1019.8 1691.4H1081.8"/><circle cx="1050.8" cy="1687.9" r="24.6" fill="#C0C0C0"/><path fill="none" stroke-linecap="round" d="M1055.2 1647.9H1117.2M1055.2 1654.9H1117.2"/><circle cx="1086.2" cy="1651.4" r="24.6" fill="#C0C0C0"/><path fill="none" stroke-linecap="round" d="M1090.6 1608.1H1152.6M1090.6 1615.1H1152.6"/><circle cx="1121.6" cy="1611.6" r="24.6" fill="#C0C0C0"/><path fill="none" stroke-linecap="round" d="M1126.0 1557.2H1188.0M1126.0 1564.2H1188.0"/><circle cx="1157.0" cy="1560.7" r="24.6" fill="#C0C0C0"/><path fill="none" stroke-linecap="round" d="M1161.4 1508.6H1223.4M1161.4 1515.6H1223.4"/><circle cx="1192.4" cy="1512.1" r="24.6" fill="#C0C0C0"/><path fill="none" stroke-linecap="round" d="M1196.8 1445.6H1258.8M1196.8 1452.6H1258.8"/><circle cx="1227.8" cy="1449.1" r="24.6" fill="#C0C0C0"/><path fill="none" stroke-linecap="round" d="M1232.2 1375.5H1294.2M1232.2 1382.5H1294.2"/><circle cx="1263.2" cy="1379.0" r="24.6" fill="#C0C0C0"/><path fill="none" stroke-linecap="round" d="M1267.6 1301.2H1329.6M1267.6 1308.2H1329.6"/><circle cx="1298.6" cy="1304.7" r="24.6" fill="#C0C0C0"/><path fill="none" stroke-linecap="round" d="M1303.0 1225.2H1365.0M1303.0 1232.2H1365.0"/><circle cx="1334.0" cy="1228.7" r="24.6" fill="#C0C0C0"/><path fill="none" stroke-linecap="round" d="M1338.4 1157.4H1400.4M1338.4 1164.4H1400.4"/><circle cx="1369.4" cy="1160.9" r="24.6" fill="#C0C0C0"/><path fill="none" stroke-linecap="round" d="M1373.8 1076.6H1435.8M1373.8 1083.6H1435.8"/><circle cx="1404.8" cy="1080.1" r="24.6" fill="#C0C0C0"/><path fill="none" stroke-linecap="round" d="M1409.2 997.8H1471.2M1409.2 1004.8H1471.2"/><circle cx="1440.2" cy="1001.3" r="24.6" fill="#C0C0C0"/><path fill="none" stroke-linecap="round" d="M1444.6 941.8H1506.6M1444.6 948.8H1506.6"/><circle cx="1475.6" cy="945.3" r="24.6" fill="#C0C0C0"/><path fill="none" stroke-linecap="round" d="M1480.0 909.0H1542.0M1480.0 916.0H1542.0"/><circle cx="1511.0" cy="912.5" r="24.6" fill="#C0C0C0"/><path fill="none" stroke-linecap="round" d="M1515.4 877.4H1577.4M1515.4 884.4H1577.4"/><circle cx="1546.4" cy="880.9" r="24.6" fill="#C0C0C0"/><path fill="none" stroke-linecap="round" d="M1550.8 843.8H1612.8M1550.8 850.8H1612.8"/><circle cx="1581.8" cy="847.3" r="24.6" fill="#C0C0C0"/><path fill="none" stroke-linecap="round" d="M1586.2 812.4H1648.2M1586.2 819.4H1648.2"/><circle cx="1617.2" cy="815.9" r="24.6" fill="#C0C0C0"/><path fill="none" stroke-linecap="round" d="M1621.6 783.3H1683.6M1621.6 790.3H1683.6"/><circle cx="1652.6" cy="786.8" r="24.6" fill="#C0C0C0"/><path fill="none" stroke-linecap="round" d="M1657.0 749.4H1719.0M1657.0 756.4H1719.0"/><circle cx="1688.0" cy="752.9" r="24.6" fill="#C0C0C0"/><path fill="none" stroke-linecap="round" d="M1692.4 715.7H1754.4M1692.4 722.7H1754.4"/><circle cx="1723.4" cy="719.2" r="24.6" fill="#C0C0C0"/><path fill="none" stroke-linecap="round" d="M1727.8 681.0H1789.8M1727.8 688.0H1789.8"/><circle cx="1758.8" cy="684.5" r="24.6" fill="#C0C0C0"/><path fill="none" stroke-linecap="round" d="M1763.2 647.4H1825.2M1763.2 654.4H1825.2"/><circle cx="1794.2" cy="650.9" r="24.6" fill="#C0C0C0"/><path fill="none" stroke-linecap="round" d="M1798.6 622.5H1860.6M1798.6 629.5H1860.6"/><circle cx="1829.6" cy="626.0" r="24.6" fill="#C0C0C0"/><path fill="none" stroke-linecap="round" d="M1834.0 595.1H1896.0M1834.0 602.1H1896.0"/><circle cx="1865.0" cy="598.6" r="24.6" fill="#C0C0C0"/><path fill="none" stroke-linecap="round" d="M1869.4 569.7H1931.4M1869.4 576.7H1931.4"/><circle cx="1900.4" cy="573.2" r="24.6" fill="#C0C0C0"/><path fill="none" stroke-linecap="round" d="M1904.8 542.5H1966.8M1904.8 549.5H1966.8"/><circle cx="1935.8" cy="546.0" r="24.6" fill="#C0C0C0"/><path fill="none" stroke-linecap="round" d="M1940.2 524.4H2002.2M1940.2 531.4H2002.2"/><circle cx="1971.2" cy="527.9" r="24.6" fill="#C0C0C0"/><path fill="none" stroke-linecap="round" d="M1975.6 514.3H2037.6M1975.6 521.3H2037.6"/><circle cx="2006.6" cy="517.8" r="24.6" fill="#C0C0C0"/><path fill="none" stroke-linecap="round" d="M2011.0 510.9H2073.0M2011.0 517.9H2073.0"/><circle cx="2042.0" cy="514.4" r="24.6" fill="#C0C0C0"/><path fill="none" stroke-linecap="round" d="M2046.4 507.5H2108.4M2046.4 514.5H2108.4"/><circle cx="2077.4" cy="511.0" r="24.6" fill="#C0C0C0"/><path fill="none" stroke-linecap="round" d="M2081.8 507.5H2143.8M2081.8 514.5H2143.8"/><circle cx="2112.8" cy="511.0" r="24.6" fill="#C0C0C0"/><path fill="none" stroke-linecap="round" d="M2117.2 507.5H2179.2M2117.2 514.5H2179.2"/><circle cx="2148.2" cy="511.0" r="24.6" fill="#C0C0C0"/><path fill="none" stroke-linecap="round" d="M2152.6 507.5H2214.6M2152.6 514.5H2214.6"/><circle cx="2183.6" cy="511.0" r="24.6" fill="#C0C0C0"/><path fill="none" stroke-linecap="round" d="M2188.0 507.5H2250.0M2188.0 514.5H2250.0"/><circle cx="2219.0" cy="511.0" r="24.6" fill="#C0C0C0"/><path fill="none" stroke-linecap="round" d="M2223.4 507.5H2285.4M2223.4 514.5H2285.4"/><circle cx="2254.4" cy="511.0" r="24.6" fill="#C0C0C0"/><path fill="none" stroke-linecap="round" d="M2258.8 507.5H2320.8M2258.8 514.5H2320.8"/><circle cx="2289.8" cy="511.0" r="24.6" fill="#C0C0C0"/><path fill="none" stroke-linecap="round" d="M2294.2 507.5H2356.2M2294.2 514.5H2356.2"/><circle cx="2325.2" cy="511.0" r="24.6" fill="#C0C0C0"/><path fill="none" stroke-linecap="round" d="M2329.6 507.5H2391.6M2329.6 514.5H2391.6"/><circle cx="2360.6" cy="511.0" r="24.6" fill="#C0C0C0"/><path fill="none" stroke-linecap="round" d="M2365.0 507.5H2427.0M2365.0 514.5H2427.0"/><circle cx="2396.0" cy="511.0" r="24.6" fill="#C0C0C0"/><path fill="none" stroke-linecap="round" d="M2400.4 508.9H2462.4M2400.4 515.9H2462.4"/><circle cx="2431.4" cy="512.4" r="24.6" fill="#C0C0C0"/><path fill="none" stroke-linecap="round" d="M2435.8 509.5H2497.8M2435.8 516.5H2497.8"/><circle cx="2466.8" cy="513.0" r="24.6" fill="#C0C0C0"/><path fill="none" stroke-linecap="round" d="M2471.2 509.5H2533.2M2471.2 516.5H2533.2"/><circle cx="2502.2" cy="513.0" r="24.6" fill="#C0C0C0"/><path fill="none" stroke-linecap="round" d="M2506.6 514.0H2568.6M2506.6 521.0H2568.6"/><circle cx="2537.6" cy="517.5" r="24.6" fill="#C0C0C0"/><path fill="none" stroke-linecap="round" d="M2542.0 518.5H2604.0M2542.0 525.5H2604.0"/><circle cx="2573.0" cy="522.0" r="24.6" fill="#C0C0C0"/><path fill="none" stroke-linecap="round" d="M2577.4 518.5H2639.4M2577.4 525.5H2639.4"/><circle cx="2608.4" cy="522.0" r="24.6" fill="#C0C0C0"/><path fill="none" stroke-linecap="round" d="M2612.8 523.0H2674.8M2612.8 530.0H2674.8"/><circle cx="2643.8" cy="526.5" r="24.6" fill="#C0C0C0"/><path fill="none" stroke-linecap="round" d="M2648.2 525.3H2710.2M2648.2 532.3H2710.2"/><circle cx="2679.2" cy="528.8" r="24.6" fill="#C0C0C0"/><path fill="none" stroke-linecap="round" d="M2683.6 529.8H2745.6M2683.6 536.8H2745.6"/><circle cx="2714.6" cy="533.3" r="24.6" fill="#C0C0C0"/><path fill="none" stroke-linecap="round" d="M2719.0 534.3H2781.0M2719.0 541.3H2781.0"/><circle cx="2750.0" cy="537.8" r="24.6" fill="#C0C0C0"/><path fill="none" stroke-linecap="round" d="M2754.4 534.3H2816.4M2754.4 541.3H2816.4"/><circle cx="2785.4" cy="537.8" r="24.6" fill="#C0C0C0"/><path fill="none" stroke-linecap="round" d="M2789.8 534.3H2851.8M2789.8 541.3H2851.8"/><circle cx="2820.8" cy="537.8" r="24.6" fill="#C0C0C0"/><path fill="none" stroke-linecap="round" d="M2825.2 538.9H2887.2M2825.2 545.9H2887.2"/><circle cx="2856.2" cy="542.4" r="24.6" fill="#C0C0C0"/><path fill="none" stroke-linecap="round" d="M2860.6 541.1H2922.6M2860.6 548.1H2922.6"/><circle cx="2891.6" cy="544.6" r="24.6" fill="#C0C0C0"/><path fill="none" stroke-linecap="round" d="M2896.0 547.9H2958.0M2896.0 554.9H2958.0"/><circle cx="2927.0" cy="551.4" r="24.6" fill="#C0C0C0"/><path fill="none" stroke-linecap="round" d="M2931.4 545.6H2993.4M2931.4 552.6H2993.4"/><circle cx="2962.4" cy="549.1" r="24.6" fill="#C0C0C0"/></g>
<polyline points="626.0,2020.5 661.4,2018.5 696.8,2011.7 732.2,2002.4 767.6,1987.7 803.0,1964.8 838.4,1944.2 873.8,1912.0 909.2,1868.7 944.6,1814.8 980.0,1741.3 1015.4,1656.8 1050.8,1556.5 1086.2,1452.0 1121.6,1349.4 1157.0,1227.3 1192.4,1109.2 1227.8,1009.7 1263.2,917.6 1298.6,815.9 1334.0,728.6 1369.4,617.5 1404.8,513.8 1440.2,457.3 1475.6,415.2 1511.0,427.9 1546.4,427.1 1581.8,424.2 1617.2,427.1 1652.6,431.6 1688.0,437.0 1723.4,442.6 1758.8,448.0 1794.2,450.0 1829.6,460.7 1865.0,468.0 1900.4,473.1 1935.8,476.8 1971.2,485.8 2006.6,489.5 2042.0,493.2 2077.4,498.8 2112.8,498.8 2148.2,498.8 2183.6,499.7 2219.0,497.4 2254.4,492.9 2289.8,488.4 2325.2,486.1 2360.6,483.9 2396.0,481.6 2431.4,477.1 2466.8,474.8 2502.2,468.0 2537.6,468.0 2573.0,463.5 2608.4,461.3 2643.8,459.0 2679.2,454.5 2714.6,452.2 2750.0,450.0 2785.4,445.4 2820.8,443.2 2856.2,438.7 2891.6,434.1 2927.0,437.0 2962.4,429.6" fill="none" stroke="#000" stroke-width="5" stroke-linejoin="round"/>
<g stroke="#000" stroke-width="5.8"><path fill="none" stroke-linecap="round" d="M595.0 2012.5H657.0M595.0 2028.5H657.0"/><circle cx="626.0" cy="2020.5" r="24.6" fill="#000000"/><path fill="none" stroke-linecap="round" d="M630.4 2010.5H692.4M630.4 2026.5H692.4"/><circle cx="661.4" cy="2018.5" r="24.6" fill="#000000"/><path fill="none" stroke-linecap="round" d="M665.8 2003.7H727.8M665.8 2019.7H727.8"/><circle cx="696.8" cy="2011.7" r="24.6" fill="#000000"/><path fill="none" stroke-linecap="round" d="M701.2 1994.4H763.2M701.2 2010.4H763.2"/><circle cx="732.2" cy="2002.4" r="24.6" fill="#000000"/><path fill="none" stroke-linecap="round" d="M736.6 1979.7H798.6M736.6 1995.7H798.6"/><circle cx="767.6" cy="1987.7" r="24.6" fill="#000000"/><path fill="none" stroke-linecap="round" d="M772.0 1956.8H834.0M772.0 1972.8H834.0"/><circle cx="803.0" cy="1964.8" r="24.6" fill="#000000"/><path fill="none" stroke-linecap="round" d="M807.4 1936.2H869.4M807.4 1952.2H869.4"/><circle cx="838.4" cy="1944.2" r="24.6" fill="#000000"/><path fill="none" stroke-linecap="round" d="M842.8 1904.0H904.8M842.8 1920.0H904.8"/><circle cx="873.8" cy="1912.0" r="24.6" fill="#000000"/><path fill="none" stroke-linecap="round" d="M878.2 1860.7H940.2M878.2 1876.7H940.2"/><circle cx="909.2" cy="1868.7" r="24.6" fill="#000000"/><path fill="none" stroke-linecap="round" d="M913.6 1806.8H975.6M913.6 1822.8H975.6"/><circle cx="944.6" cy="1814.8" r="24.6" fill="#000000"/><path fill="none" stroke-linecap="round" d="M949.0 1733.3H1011.0M949.0 1749.3H1011.0"/><circle cx="980.0" cy="1741.3" r="24.6" fill="#000000"/><path fill="none" stroke-linecap="round" d="M984.4 1648.8H1046.4M984.4 1664.8H1046.4"/><circle cx="1015.4" cy="1656.8" r="24.6" fill="#000000"/><path fill="none" stroke-linecap="round" d="M1019.8 1548.5H1081.8M1019.8 1564.5H1081.8"/><circle cx="1050.8" cy="1556.5" r="24.6" fill="#000000"/><path fill="none" stroke-linecap="round" d="M1055.2 1444.0H1117.2M1055.2 1460.0H1117.2"/><circle cx="1086.2" cy="1452.0" r="24.6" fill="#000000"/><path fill="none" stroke-linecap="round" d="M1090.6 1336.0H1152.6M1090.6 1362.8H1152.6"/><circle cx="1121.6" cy="1349.4" r="24.6" fill="#000000"/><path fill="none" stroke-linecap="round" d="M1126.0 1213.3H1188.0M1126.0 1241.3H1188.0"/><circle cx="1157.0" cy="1227.3" r="24.6" fill="#000000"/><path fill="none" stroke-linecap="round" d="M1161.4 1095.2H1223.4M1161.4 1123.2H1223.4"/><circle cx="1192.4" cy="1109.2" r="24.6" fill="#000000"/><path fill="none" stroke-linecap="round" d="M1196.8 998.2H1258.8M1196.8 1021.2H1258.8"/><circle cx="1227.8" cy="1009.7" r="24.6" fill="#000000"/><path fill="none" stroke-linecap="round" d="M1232.2 902.1H1294.2M1232.2 933.1H1294.2"/><circle cx="1263.2" cy="917.6" r="24.6" fill="#000000"/><path fill="none" stroke-linecap="round" d="M1267.6 786.4H1329.6M1267.6 845.4H1329.6"/><circle cx="1298.6" cy="815.9" r="24.6" fill="#000000"/><path fill="none" stroke-linecap="round" d="M1303.0 699.1H1365.0M1303.0 758.1H1365.0"/><circle cx="1334.0" cy="728.6" r="24.6" fill="#000000"/><path fill="none" stroke-linecap="round" d="M1338.4 586.5H1400.4M1338.4 648.5H1400.4"/><circle cx="1369.4" cy="617.5" r="24.6" fill="#000000"/><path fill="none" stroke-linecap="round" d="M1373.8 488.2H1435.8M1373.8 539.4H1435.8"/><circle cx="1404.8" cy="513.8" r="24.6" fill="#000000"/><path fill="none" stroke-linecap="round" d="M1409.2 445.3H1471.2M1409.2 469.3H1471.2"/><circle cx="1440.2" cy="457.3" r="24.6" fill="#000000"/><path fill="none" stroke-linecap="round" d="M1444.6 407.2H1506.6M1444.6 423.2H1506.6"/><circle cx="1475.6" cy="415.2" r="24.6" fill="#000000"/><path fill="none" stroke-linecap="round" d="M1480.0 419.9H1542.0M1480.0 435.9H1542.0"/><circle cx="1511.0" cy="427.9" r="24.6" fill="#000000"/><path fill="none" stroke-linecap="round" d="M1515.4 419.1H1577.4M1515.4 435.1H1577.4"/><circle cx="1546.4" cy="427.1" r="24.6" fill="#000000"/><path fill="none" stroke-linecap="round" d="M1550.8 416.2H1612.8M1550.8 432.2H1612.8"/><circle cx="1581.8" cy="424.2" r="24.6" fill="#000000"/><path fill="none" stroke-linecap="round" d="M1586.2 419.1H1648.2M1586.2 435.1H1648.2"/><circle cx="1617.2" cy="427.1" r="24.6" fill="#000000"/><path fill="none" stroke-linecap="round" d="M1621.6 423.6H1683.6M1621.6 439.6H1683.6"/><circle cx="1652.6" cy="431.6" r="24.6" fill="#000000"/><path fill="none" stroke-linecap="round" d="M1657.0 429.0H1719.0M1657.0 445.0H1719.0"/><circle cx="1688.0" cy="437.0" r="24.6" fill="#000000"/><path fill="none" stroke-linecap="round" d="M1692.4 434.6H1754.4M1692.4 450.6H1754.4"/><circle cx="1723.4" cy="442.6" r="24.6" fill="#000000"/><path fill="none" stroke-linecap="round" d="M1727.8 440.0H1789.8M1727.8 456.0H1789.8"/><circle cx="1758.8" cy="448.0" r="24.6" fill="#000000"/><path fill="none" stroke-linecap="round" d="M1763.2 442.0H1825.2M1763.2 458.0H1825.2"/><circle cx="1794.2" cy="450.0" r="24.6" fill="#000000"/><path fill="none" stroke-linecap="round" d="M1798.6 452.7H1860.6M1798.6 468.7H1860.6"/><circle cx="1829.6" cy="460.7" r="24.6" fill="#000000"/><path fill="none" stroke-linecap="round" d="M1834.0 460.0H1896.0M1834.0 476.0H1896.0"/><circle cx="1865.0" cy="468.0" r="24.6" fill="#000000"/><path fill="none" stroke-linecap="round" d="M1869.4 465.1H1931.4M1869.4 481.1H1931.4"/><circle cx="1900.4" cy="473.1" r="24.6" fill="#000000"/><path fill="none" stroke-linecap="round" d="M1904.8 468.8H1966.8M1904.8 484.8H1966.8"/><circle cx="1935.8" cy="476.8" r="24.6" fill="#000000"/><path fill="none" stroke-linecap="round" d="M1940.2 477.8H2002.2M1940.2 493.8H2002.2"/><circle cx="1971.2" cy="485.8" r="24.6" fill="#000000"/><path fill="none" stroke-linecap="round" d="M1975.6 481.5H2037.6M1975.6 497.5H2037.6"/><circle cx="2006.6" cy="489.5" r="24.6" fill="#000000"/><path fill="none" stroke-linecap="round" d="M2011.0 485.2H2073.0M2011.0 501.2H2073.0"/><circle cx="2042.0" cy="493.2" r="24.6" fill="#000000"/><path fill="none" stroke-linecap="round" d="M2046.4 490.8H2108.4M2046.4 506.8H2108.4"/><circle cx="2077.4" cy="498.8" r="24.6" fill="#000000"/><path fill="none" stroke-linecap="round" d="M2081.8 490.8H2143.8M2081.8 506.8H2143.8"/><circle cx="2112.8" cy="498.8" r="24.6" fill="#000000"/><path fill="none" stroke-linecap="round" d="M2117.2 490.8H2179.2M2117.2 506.8H2179.2"/><circle cx="2148.2" cy="498.8" r="24.6" fill="#000000"/><path fill="none" stroke-linecap="round" d="M2152.6 491.7H2214.6M2152.6 507.7H2214.6"/><circle cx="2183.6" cy="499.7" r="24.6" fill="#000000"/><path fill="none" stroke-linecap="round" d="M2188.0 489.4H2250.0M2188.0 505.4H2250.0"/><circle cx="2219.0" cy="497.4" r="24.6" fill="#000000"/><path fill="none" stroke-linecap="round" d="M2223.4 484.9H2285.4M2223.4 500.9H2285.4"/><circle cx="2254.4" cy="492.9" r="24.6" fill="#000000"/><path fill="none" stroke-linecap="round" d="M2258.8 480.4H2320.8M2258.8 496.4H2320.8"/><circle cx="2289.8" cy="488.4" r="24.6" fill="#000000"/><path fill="none" stroke-linecap="round" d="M2294.2 478.1H2356.2M2294.2 494.1H2356.2"/><circle cx="2325.2" cy="486.1" r="24.6" fill="#000000"/><path fill="none" stroke-linecap="round" d="M2329.6 475.9H2391.6M2329.6 491.9H2391.6"/><circle cx="2360.6" cy="483.9" r="24.6" fill="#000000"/><path fill="none" stroke-linecap="round" d="M2365.0 473.6H2427.0M2365.0 489.6H2427.0"/><circle cx="2396.0" cy="481.6" r="24.6" fill="#000000"/><path fill="none" stroke-linecap="round" d="M2400.4 469.1H2462.4M2400.4 485.1H2462.4"/><circle cx="2431.4" cy="477.1" r="24.6" fill="#000000"/><path fill="none" stroke-linecap="round" d="M2435.8 466.8H2497.8M2435.8 482.8H2497.8"/><circle cx="2466.8" cy="474.8" r="24.6" fill="#000000"/><path fill="none" stroke-linecap="round" d="M2471.2 460.0H2533.2M2471.2 476.0H2533.2"/><circle cx="2502.2" cy="468.0" r="24.6" fill="#000000"/><path fill="none" stroke-linecap="round" d="M2506.6 460.0H2568.6M2506.6 476.0H2568.6"/><circle cx="2537.6" cy="468.0" r="24.6" fill="#000000"/><path fill="none" stroke-linecap="round" d="M2542.0 455.5H2604.0M2542.0 471.5H2604.0"/><circle cx="2573.0" cy="463.5" r="24.6" fill="#000000"/><path fill="none" stroke-linecap="round" d="M2577.4 453.3H2639.4M2577.4 469.3H2639.4"/><circle cx="2608.4" cy="461.3" r="24.6" fill="#000000"/><path fill="none" stroke-linecap="round" d="M2612.8 451.0H2674.8M2612.8 467.0H2674.8"/><circle cx="2643.8" cy="459.0" r="24.6" fill="#000000"/><path fill="none" stroke-linecap="round" d="M2648.2 446.5H2710.2M2648.2 462.5H2710.2"/><circle cx="2679.2" cy="454.5" r="24.6" fill="#000000"/><path fill="none" stroke-linecap="round" d="M2683.6 444.2H2745.6M2683.6 460.2H2745.6"/><circle cx="2714.6" cy="452.2" r="24.6" fill="#000000"/><path fill="none" stroke-linecap="round" d="M2719.0 442.0H2781.0M2719.0 458.0H2781.0"/><circle cx="2750.0" cy="450.0" r="24.6" fill="#000000"/><path fill="none" stroke-linecap="round" d="M2754.4 437.4H2816.4M2754.4 453.4H2816.4"/><circle cx="2785.4" cy="445.4" r="24.6" fill="#000000"/><path fill="none" stroke-linecap="round" d="M2789.8 435.2H2851.8M2789.8 451.2H2851.8"/><circle cx="2820.8" cy="443.2" r="24.6" fill="#000000"/><path fill="none" stroke-linecap="round" d="M2825.2 430.7H2887.2M2825.2 446.7H2887.2"/><circle cx="2856.2" cy="438.7" r="24.6" fill="#000000"/><path fill="none" stroke-linecap="round" d="M2860.6 426.1H2922.6M2860.6 442.1H2922.6"/><circle cx="2891.6" cy="434.1" r="24.6" fill="#000000"/><path fill="none" stroke-linecap="round" d="M2896.0 429.0H2958.0M2896.0 445.0H2958.0"/><circle cx="2927.0" cy="437.0" r="24.6" fill="#000000"/><path fill="none" stroke-linecap="round" d="M2931.4 421.6H2993.4M2931.4 437.6H2993.4"/><circle cx="2962.4" cy="429.6" r="24.6" fill="#000000"/></g>
<path d="M2975 1257.2H3198.5" stroke="#000" stroke-width="5.5" stroke-linecap="round"/>
<circle cx="3086.3" cy="1257.2" r="24.6" fill="#FF0000" stroke="#000" stroke-width="5.5"/>
<text transform="translate(3254.3 1291.7) scale(1 1.025)" font-size="100">no metabolite</text>
<path d="M2975 1384.0H3198.5" stroke="#000" stroke-width="5.5" stroke-linecap="round"/>
<circle cx="3086.3" cy="1384.0" r="24.6" fill="#00FF00" stroke="#000" stroke-width="5.5"/>
<text transform="translate(3254.3 1418.5) scale(1 1.025)" font-size="100">IMP</text>
<path d="M2975 1510.8H3198.5" stroke="#000" stroke-width="5.5" stroke-linecap="round"/>
<circle cx="3086.3" cy="1510.8" r="24.6" fill="#0000FF" stroke="#000" stroke-width="5.5"/>
<text transform="translate(3254.3 1545.3) scale(1 1.025)" font-size="100">dTMP</text>
<path d="M2975 1637.6H3198.5" stroke="#000" stroke-width="5.5" stroke-linecap="round"/>
<circle cx="3086.3" cy="1637.6" r="24.6" fill="#FF00FF" stroke="#000" stroke-width="5.5"/>
<text transform="translate(3254.3 1672.1) scale(1 1.025)" font-size="100">serine</text>
<path d="M2975 1764.4H3198.5" stroke="#000" stroke-width="5.5" stroke-linecap="round"/>
<circle cx="3086.3" cy="1764.4" r="24.6" fill="#00FFFF" stroke="#000" stroke-width="5.5"/>
<text transform="translate(3254.3 1798.9) scale(1 1.025)" font-size="100">tryptophan</text>
<path d="M2975 1891.2H3198.5" stroke="#000" stroke-width="5.5" stroke-linecap="round"/>
<circle cx="3086.3" cy="1891.2" r="24.6" fill="#C0C0C0" stroke="#000" stroke-width="5.5"/>
<text transform="translate(3254.3 1925.7) scale(1 1.025)" font-size="100">IMP+dTMP+serine+tryp</text>
<path d="M2975 2018.0H3198.5" stroke="#000" stroke-width="5.5" stroke-linecap="round"/>
<circle cx="3086.3" cy="2018.0" r="24.6" fill="#000000" stroke="#000" stroke-width="5.5"/>
<text transform="translate(3254.3 2052.5) scale(1 1.025)" font-size="100">emptyplasmid</text>
</svg></body></html>
